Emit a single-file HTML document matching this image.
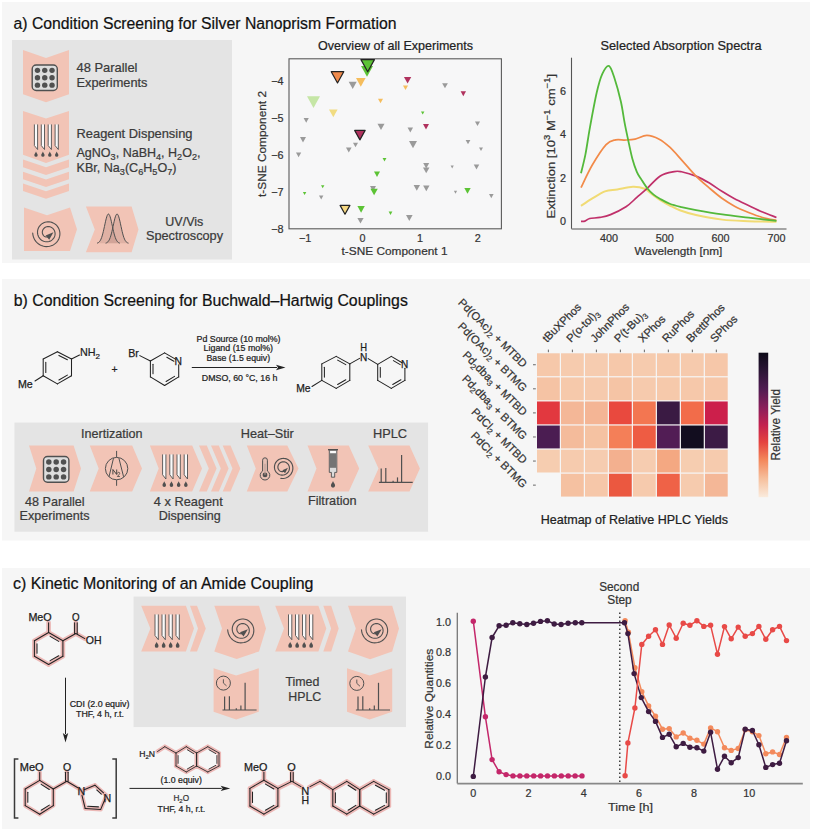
<!DOCTYPE html>
<html><head><meta charset="utf-8"><title>Figure</title>
<style>
html,body{margin:0;padding:0;background:#fff;}
svg{display:block;}
text{font-family:"Liberation Sans", sans-serif;}
</style></head><body>
<svg width="813" height="831" viewBox="0 0 813 831">
<rect x="0" y="0" width="813" height="831" fill="#ffffff"/>
<rect x="2" y="2" width="808" height="261" fill="#f6f6f6"/>
<rect x="2" y="279" width="808" height="261.5" fill="#f6f6f6"/>
<rect x="2" y="568" width="808" height="261" fill="#f6f6f6"/>
<text x="13.5" y="28.9" font-size="16" fill="#111" text-anchor="start" textLength="383" lengthAdjust="spacingAndGlyphs"  stroke="#111" stroke-width="0.22">a) Condition Screening for Silver Nanoprism Formation</text>
<text x="13.8" y="305.7" font-size="16" fill="#111" text-anchor="start" textLength="394" lengthAdjust="spacingAndGlyphs"  stroke="#111" stroke-width="0.22">b) Condition Screening for Buchwald–Hartwig Couplings</text>
<text x="13" y="588.5" font-size="16" fill="#111" text-anchor="start" textLength="300.5" lengthAdjust="spacingAndGlyphs"  stroke="#111" stroke-width="0.22">c) Kinetic Monitoring of an Amide Coupling</text>
<rect x="12" y="40" width="220" height="219.5" fill="#e4e4e4"/>
<polygon points="23,50 46,58 69,50 69,94.2 46,102.3 23,94.2" fill="#f2c4b6" />
<rect x="32.2" y="65" width="25.1" height="25.5" rx="4" fill="#dddddd" stroke="#505050" stroke-width="1.4"/>
<circle cx="37.47" cy="70.36" r="2.71" fill="#505050"/>
<circle cx="37.47" cy="77.75" r="2.71" fill="#505050"/>
<circle cx="37.47" cy="85.14" r="2.71" fill="#505050"/>
<circle cx="44.75" cy="70.36" r="2.71" fill="#505050"/>
<circle cx="44.75" cy="77.75" r="2.71" fill="#505050"/>
<circle cx="44.75" cy="85.14" r="2.71" fill="#505050"/>
<circle cx="52.03" cy="70.36" r="2.71" fill="#505050"/>
<circle cx="52.03" cy="77.75" r="2.71" fill="#505050"/>
<circle cx="52.03" cy="85.14" r="2.71" fill="#505050"/>
<text x="76.5" y="72" font-size="12.4" fill="#3a3a3a" text-anchor="start" textLength="61" lengthAdjust="spacingAndGlyphs"  stroke="#3a3a3a" stroke-width="0.22">48 Parallel</text>
<text x="76.5" y="86.8" font-size="12.4" fill="#3a3a3a" text-anchor="start" textLength="71" lengthAdjust="spacingAndGlyphs"  stroke="#3a3a3a" stroke-width="0.22">Experiments</text>
<polygon points="23,111 46,118.6 69,111 69,154.8 46,162.9 23,154.8" fill="#f2c4b6" />
<path d="M34.4,124.4 L34.4,145.6 L37.6,149.5 L37.6,124.4" fill="#fafafa" stroke="#505050" stroke-width="0.9"/>
<path d="M36,151.5 C36.43,153.15 37.7,153.59 37.7,155.29 A1.71,1.71 0 0 1 34.3,155.29 C34.3,153.59 35.57,153.15 36,151.5 Z" fill="#505050"/>
<path d="M41.3,124.4 L41.3,145.6 L44.5,149.5 L44.5,124.4" fill="#fafafa" stroke="#505050" stroke-width="0.9"/>
<path d="M42.9,151.5 C43.33,153.15 44.6,153.59 44.6,155.29 A1.71,1.71 0 0 1 41.2,155.29 C41.2,153.59 42.47,153.15 42.9,151.5 Z" fill="#505050"/>
<path d="M48.2,124.4 L48.2,145.6 L51.4,149.5 L51.4,124.4" fill="#fafafa" stroke="#505050" stroke-width="0.9"/>
<path d="M49.8,151.5 C50.23,153.15 51.51,153.59 51.51,155.29 A1.71,1.71 0 0 1 48.1,155.29 C48.1,153.59 49.37,153.15 49.8,151.5 Z" fill="#505050"/>
<path d="M55.1,124.4 L55.1,145.6 L58.3,149.5 L58.3,124.4" fill="#fafafa" stroke="#505050" stroke-width="0.9"/>
<path d="M56.7,151.5 C57.13,153.15 58.41,153.59 58.41,155.29 A1.71,1.71 0 0 1 55,155.29 C55,153.59 56.27,153.15 56.7,151.5 Z" fill="#505050"/>
<text x="76.5" y="137.7" font-size="12.4" fill="#3a3a3a" text-anchor="start" textLength="116" lengthAdjust="spacingAndGlyphs"  stroke="#3a3a3a" stroke-width="0.22">Reagent Dispensing</text>
<polygon points="23,159.6 46,167.3 69,159.6 69,167.3 46,175 23,167.3" fill="#f2c4b6" />
<polygon points="23,171.7 46,179.4 69,171.7 69,179.2 46,186.9 23,179.2" fill="#f2c4b6" />
<polygon points="23,183.5 46,191.2 69,183.5 69,191 46,198.7 23,191" fill="#f2c4b6" />
<text x="76.5" y="157.3" font-size="12.4" fill="#3a3a3a" textLength="124" lengthAdjust="spacingAndGlyphs" stroke="#3a3a3a" stroke-width="0.22">AgNO<tspan font-size="9" dy="2.3">3</tspan><tspan dy="-2.3">, NaBH</tspan><tspan font-size="9" dy="2.3">4</tspan><tspan dy="-2.3">, H</tspan><tspan font-size="9" dy="2.3">2</tspan><tspan dy="-2.3">O</tspan><tspan font-size="9" dy="2.3">2</tspan><tspan dy="-2.3">,</tspan></text>
<text x="76.5" y="172.2" font-size="12.4" fill="#3a3a3a" textLength="100" lengthAdjust="spacingAndGlyphs" stroke="#3a3a3a" stroke-width="0.22">KBr, Na<tspan font-size="9" dy="2.3">3</tspan><tspan dy="-2.3">(C</tspan><tspan font-size="9" dy="2.3">6</tspan><tspan dy="-2.3">H</tspan><tspan font-size="9" dy="2.3">5</tspan><tspan dy="-2.3">O</tspan><tspan font-size="9" dy="2.3">7</tspan><tspan dy="-2.3">)</tspan></text>
<polygon points="24,207.6 47,215.3 70,207.6 77,229.3 70,251 24,251" fill="#f2c4b6" />
<polyline points="32.7,233 32.91,234.81 33.33,236.57 33.97,238.26 34.81,239.84 35.82,241.3 37.01,242.61 38.33,243.76 39.78,244.73 41.33,245.5 42.95,246.08 44.61,246.45 46.3,246.61 47.98,246.56 49.64,246.3 51.23,245.84 52.75,245.2 54.16,244.38 55.46,243.39 56.61,242.27 57.61,241.01 58.44,239.66 59.09,238.22 59.55,236.72 59.83,235.19 59.91,233.65 59.8,232.12 59.5,230.63 59.03,229.2 58.39,227.85 57.59,226.6 56.65,225.46 55.59,224.46 54.42,223.61 53.16,222.91 51.84,222.38 50.47,222.01 49.08,221.83 47.69,221.81 46.32,221.97 44.99,222.29 43.72,222.77 42.53,223.4 41.44,224.16 40.46,225.05 39.61,226.04 38.89,227.12 38.31,228.27 37.89,229.47 37.62,230.7 37.51,231.95 37.55,233.19 37.74,234.4 38.08,235.57 38.55,236.67 39.16,237.7 39.88,238.64 40.7,239.47 41.61,240.18 42.59,240.77 43.63,241.23 44.7,241.56 45.79,241.75 46.89,241.79 47.97,241.71 49.03,241.49 50.03,241.14 50.98,240.68 51.85,240.12 52.63,239.45 53.32,238.7 53.91,237.88 54.38,237.01 54.73,236.09 54.97,235.15 55.08,234.2 55.08,233.25 54.95,232.33 54.72,231.43 54.38,230.59 53.95,229.8 53.43,229.08 52.83,228.44 52.16,227.89 51.44,227.43 50.68,227.07 49.89,226.82 49.09,226.66 48.28,226.61 47.49,226.66 46.72,226.8 45.98,227.04 45.29,227.36 44.66,227.75 44.09,228.22 43.59,228.75 43.17,229.32 42.83,229.94 42.57,230.58 42.4,231.24 42.32,231.9 42.31,232.55 42.39,233.19 42.55,233.81 42.78,234.38 43.07,234.92 43.42,235.4 43.83,235.83 44.27,236.19 44.75,236.49 45.25,236.72 45.76,236.88 46.28,236.98 46.8,237 47.3,236.96 47.78,236.86 48.24,236.71 48.66,236.5 49.04,236.24 49.38,235.95 49.67,235.62" fill="none" stroke="#505050" stroke-width="1.1" stroke-linecap="round"/>
<polygon points="53.44,232.33 49.21,239.66 45.6,235.52" fill="#505050" />
<polygon points="85.9,206.5 131.6,206.5 138.5,229.6 131.6,252.2 85.9,252.2 94.8,229.6" fill="#f2c4b6" />
<polygon points="97,243.17 97.57,242.99 98.14,242.73 98.72,242.36 99.29,241.84 99.86,241.15 100.44,240.25 101.01,239.09 101.58,237.66 102.15,235.94 102.72,233.92 103.3,231.64 103.87,229.14 104.44,226.5 105.02,223.82 105.59,221.23 106.16,218.86 106.73,216.84 107.31,215.3 107.88,214.33 108.45,214 109.02,214.33 109.59,215.3 110.17,216.84 110.74,218.86 111.31,221.23 111.89,223.82 112.46,226.5 113.03,229.14 113.6,231.64 114.17,233.92 114.75,235.94 115.32,237.66 115.89,239.09 116.47,240.25 117.04,241.15 117.61,241.84 118.18,242.36 118.75,242.73 119.33,242.99 119.9,243.17" fill="#b98a80" fill-opacity="0.32"/>
<polygon points="105.6,243.17 106.17,242.99 106.74,242.73 107.32,242.36 107.89,241.84 108.46,241.15 109.03,240.25 109.61,239.09 110.18,237.66 110.75,235.94 111.32,233.92 111.9,231.64 112.47,229.14 113.04,226.5 113.61,223.82 114.19,221.23 114.76,218.86 115.33,216.84 115.91,215.3 116.48,214.33 117.05,214 117.62,214.33 118.19,215.3 118.77,216.84 119.34,218.86 119.91,221.23 120.48,223.82 121.06,226.5 121.63,229.14 122.2,231.64 122.77,233.92 123.35,235.94 123.92,237.66 124.49,239.09 125.06,240.25 125.64,241.15 126.21,241.84 126.78,242.36 127.35,242.73 127.93,242.99 128.5,243.17" fill="#b98a80" fill-opacity="0.32"/>
<polyline points="97,243.17 97.57,242.99 98.14,242.73 98.72,242.36 99.29,241.84 99.86,241.15 100.44,240.25 101.01,239.09 101.58,237.66 102.15,235.94 102.72,233.92 103.3,231.64 103.87,229.14 104.44,226.5 105.02,223.82 105.59,221.23 106.16,218.86 106.73,216.84 107.31,215.3 107.88,214.33 108.45,214 109.02,214.33 109.59,215.3 110.17,216.84 110.74,218.86 111.31,221.23 111.89,223.82 112.46,226.5 113.03,229.14 113.6,231.64 114.17,233.92 114.75,235.94 115.32,237.66 115.89,239.09 116.47,240.25 117.04,241.15 117.61,241.84 118.18,242.36 118.75,242.73 119.33,242.99 119.9,243.17" fill="none" stroke="#505050" stroke-width="1" />
<polyline points="105.6,243.17 106.17,242.99 106.74,242.73 107.32,242.36 107.89,241.84 108.46,241.15 109.03,240.25 109.61,239.09 110.18,237.66 110.75,235.94 111.32,233.92 111.9,231.64 112.47,229.14 113.04,226.5 113.61,223.82 114.19,221.23 114.76,218.86 115.33,216.84 115.91,215.3 116.48,214.33 117.05,214 117.62,214.33 118.19,215.3 118.77,216.84 119.34,218.86 119.91,221.23 120.48,223.82 121.06,226.5 121.63,229.14 122.2,231.64 122.77,233.92 123.35,235.94 123.92,237.66 124.49,239.09 125.06,240.25 125.64,241.15 126.21,241.84 126.78,242.36 127.35,242.73 127.93,242.99 128.5,243.17" fill="none" stroke="#505050" stroke-width="1" />
<text x="184.3" y="225.6" font-size="12.4" fill="#3a3a3a" text-anchor="middle" textLength="38" lengthAdjust="spacingAndGlyphs"  stroke="#3a3a3a" stroke-width="0.22">UV/Vis</text>
<text x="184.5" y="240.4" font-size="12.4" fill="#3a3a3a" text-anchor="middle" textLength="77" lengthAdjust="spacingAndGlyphs"  stroke="#3a3a3a" stroke-width="0.22">Spectroscopy</text>
<rect x="289" y="58.8" width="212.4" height="170" fill="#f7f7f8" stroke="#5a5a5a" stroke-width="1.1"/>
<text x="395.5" y="50.1" font-size="12.4" fill="#222" text-anchor="middle" textLength="155" lengthAdjust="spacingAndGlyphs"  stroke="#222" stroke-width="0.22">Overview of all Experiments</text>
<text x="283.5" y="85.2" font-size="10.8" fill="#333" text-anchor="end"  stroke="#333" stroke-width="0.22">−4</text>
<text x="283.5" y="122.1" font-size="10.8" fill="#333" text-anchor="end"  stroke="#333" stroke-width="0.22">−5</text>
<text x="283.5" y="158.9" font-size="10.8" fill="#333" text-anchor="end"  stroke="#333" stroke-width="0.22">−6</text>
<text x="283.5" y="195.8" font-size="10.8" fill="#333" text-anchor="end"  stroke="#333" stroke-width="0.22">−7</text>
<text x="283.5" y="232.6" font-size="10.8" fill="#333" text-anchor="end"  stroke="#333" stroke-width="0.22">−8</text>
<text x="305.2" y="241.8" font-size="10.8" fill="#333" text-anchor="middle"  stroke="#333" stroke-width="0.22">−1</text>
<text x="362.6" y="241.8" font-size="10.8" fill="#333" text-anchor="middle"  stroke="#333" stroke-width="0.22">0</text>
<text x="420" y="241.8" font-size="10.8" fill="#333" text-anchor="middle"  stroke="#333" stroke-width="0.22">1</text>
<text x="477.8" y="241.8" font-size="10.8" fill="#333" text-anchor="middle"  stroke="#333" stroke-width="0.22">2</text>
<text x="394.5" y="255.2" font-size="11.6" fill="#333" text-anchor="middle" textLength="106" lengthAdjust="spacingAndGlyphs"  stroke="#333" stroke-width="0.22">t-SNE Component 1</text>
<text transform="translate(266,144) rotate(-90)" font-size="11.6" fill="#333" text-anchor="middle" textLength="106" lengthAdjust="spacingAndGlyphs" stroke="#333" stroke-width="0.22">t-SNE Component 2</text>
<polygon points="361,66 373,66 367,76.8" fill="#5cc335" />
<polygon points="348.7,81.7 356.7,81.7 352.7,88.9" fill="#9a9a9a" />
<polygon points="356,78 365.6,78 360.8,86.64" fill="#f5bd5d" />
<polygon points="307,96.2 320,96.2 313.5,107.9" fill="#c5e6a6" />
<polygon points="329,109.5 337.6,109.5 333.3,117.24" fill="#f1dc82" />
<polygon points="378,98.7 383,98.7 380.5,103.2" fill="#f5bd5d" />
<polygon points="303.6,118 308.8,118 306.2,122.68" fill="#9a9a9a" />
<polygon points="377.5,123.8 384.5,123.8 381,130.1" fill="#9a9a9a" />
<polygon points="300,137 306,137 303,142.4" fill="#9a9a9a" />
<polygon points="353,142.7 358,142.7 355.5,147.2" fill="#9a9a9a" />
<polygon points="403.95,77 411.25,77 407.6,83.57" fill="#b0325e" />
<polygon points="403,85.5 408,85.5 405.5,90" fill="#f5bd5d" />
<polygon points="442.15,83.2 447.85,83.2 445,88.33" fill="#9a9a9a" />
<polygon points="460.6,91.3 466,91.3 463.3,96.16" fill="#b0325e" />
<polygon points="421,111.5 424.4,111.5 422.7,114.56" fill="#5cc335" />
<polygon points="423,124 429,124 426,129.4" fill="#b0325e" />
<polygon points="407.55,127.5 413.05,127.5 410.3,132.45" fill="#9a9a9a" />
<polygon points="475,121.5 480,121.5 477.5,126" fill="#9a9a9a" />
<polygon points="409,141 417,141 413,148.2" fill="#9a9a9a" />
<polygon points="465.6,140 470.4,140 468,144.32" fill="#9a9a9a" />
<polygon points="479,147.5 483,147.5 481,151.1" fill="#9a9a9a" />
<polygon points="296,152.5 301.2,152.5 298.6,157.18" fill="#9a9a9a" />
<polygon points="346,147.5 351.6,147.5 348.8,152.54" fill="#9a9a9a" />
<polygon points="382.55,158 386.45,158 384.5,161.51" fill="#5cc335" />
<polygon points="374,171.5 380,171.5 377,176.9" fill="#5cc335" />
<polygon points="423.2,163 429.2,163 426.2,168.4" fill="#9a9a9a" />
<polygon points="422.95,167.5 429.45,167.5 426.2,173.35" fill="#9a9a9a" />
<polygon points="450.6,165.5 453.8,165.5 452.2,168.38" fill="#9a9a9a" />
<polygon points="473.75,164.6 479.25,164.6 476.5,169.55" fill="#9a9a9a" />
<polygon points="321,185.3 324.4,185.3 322.7,188.36" fill="#5cc335" />
<polygon points="302.9,192 306.3,192 304.6,195.06" fill="#5cc335" />
<polygon points="319,195.6 323.4,195.6 321.2,199.56" fill="#9a9a9a" />
<polygon points="370,186 376,186 373,191.4" fill="#9a9a9a" />
<polygon points="370.45,188.7 377.75,188.7 374.1,195.27" fill="#5cc335" />
<polygon points="413.6,185 420,185 416.8,190.76" fill="#9a9a9a" />
<polygon points="423.1,185.6 429.5,185.6 426.3,191.36" fill="#9a9a9a" />
<polygon points="453.9,190.8 457.1,190.8 455.5,193.68" fill="#9a9a9a" />
<polygon points="464.3,188 470.7,188 467.5,193.76" fill="#5cc335" />
<polygon points="489,194 493.6,194 491.3,198.14" fill="#9a9a9a" />
<polygon points="357.4,206 364.8,206 361.1,212.66" fill="#5cc335" />
<polygon points="357.4,218 363.6,218 360.5,223.58" fill="#9a9a9a" />
<polygon points="388.6,211.5 392.4,211.5 390.5,214.92" fill="#5cc335" />
<polygon points="406,215 412.6,215 409.3,220.94" fill="#9a9a9a" />
<polygon points="331.25,71.7 343.75,71.7 337.5,82.95" fill="#f08a4c" stroke="#222" stroke-width="1.2" stroke-linejoin="round"/>
<polygon points="360.95,59.6 374.45,59.6 367.7,71.75" fill="#5cc335" stroke="#222" stroke-width="1.2" stroke-linejoin="round"/>
<polygon points="354.65,130.4 365.15,130.4 359.9,139.85" fill="#b0325e" stroke="#222" stroke-width="1.2" stroke-linejoin="round"/>
<polygon points="340.1,205.4 349.9,205.4 345,214.22" fill="#f6d882" stroke="#222" stroke-width="1.2" stroke-linejoin="round"/>
<line x1="571.5" y1="57.7" x2="571.5" y2="228.9" stroke="#555" stroke-width="1.1" />
<line x1="571.5" y1="228.9" x2="786.5" y2="228.9" stroke="#888" stroke-width="1.5" />
<text x="681" y="49.8" font-size="12.4" fill="#222" text-anchor="middle" textLength="161" lengthAdjust="spacingAndGlyphs"  stroke="#222" stroke-width="0.22">Selected Absorption Spectra</text>
<text x="566" y="225.4" font-size="10.8" fill="#333" text-anchor="end"  stroke="#333" stroke-width="0.22">0</text>
<text x="566" y="181.9" font-size="10.8" fill="#333" text-anchor="end"  stroke="#333" stroke-width="0.22">2</text>
<text x="566" y="138.4" font-size="10.8" fill="#333" text-anchor="end"  stroke="#333" stroke-width="0.22">4</text>
<text x="566" y="94.9" font-size="10.8" fill="#333" text-anchor="end"  stroke="#333" stroke-width="0.22">6</text>
<text x="608.9" y="241.8" font-size="10.8" fill="#333" text-anchor="middle"  stroke="#333" stroke-width="0.22">400</text>
<text x="664.75" y="241.8" font-size="10.8" fill="#333" text-anchor="middle"  stroke="#333" stroke-width="0.22">500</text>
<text x="720.6" y="241.8" font-size="10.8" fill="#333" text-anchor="middle"  stroke="#333" stroke-width="0.22">600</text>
<text x="776.45" y="241.8" font-size="10.8" fill="#333" text-anchor="middle"  stroke="#333" stroke-width="0.22">700</text>
<text x="678.4" y="255" font-size="11.6" fill="#333" text-anchor="middle" textLength="88" lengthAdjust="spacingAndGlyphs"  stroke="#333" stroke-width="0.22">Wavelength [nm]</text>
<text transform="translate(554.5,146.2) rotate(-90)" font-size="11.8" fill="#333" text-anchor="middle" textLength="144.5" lengthAdjust="spacingAndGlyphs" stroke="#333" stroke-width="0.22">Extinction [10<tspan font-size="8.5" dy="-4.5">3</tspan><tspan dy="4.5"> M</tspan><tspan font-size="8.5" dy="-4.5">−1</tspan><tspan dy="4.5"> cm</tspan><tspan font-size="8.5" dy="-4.5">−1</tspan><tspan dy="4.5">]</tspan></text>
<path d="M580.98,205.92 C582.74,204.76 587.58,201.39 591.59,198.96 C595.59,196.53 600.71,192.95 604.99,191.35 C609.27,189.76 612.62,190.15 617.28,189.39 C621.93,188.63 628.35,186.89 632.92,186.78 C637.48,186.67 641.39,187.44 644.64,188.74 C647.9,190.05 649.86,192.73 652.46,194.61 C655.07,196.5 657.4,198.24 660.28,200.05 C663.17,201.86 666.52,203.78 669.78,205.49 C673.03,207.19 675.45,208.68 679.83,210.27 C684.2,211.87 688.95,213.5 696.03,215.06 C703.1,216.62 713.53,218.61 722.28,219.62 C731.03,220.64 739.5,220.78 748.52,221.15 C757.55,221.51 771.8,221.69 776.45,221.8" fill="none" stroke="#f1db74" stroke-width="2.0"/>
<path d="M580.98,221.37 C581.63,221.33 583.43,221.62 584.88,221.15 C586.34,220.68 587.17,219.15 589.69,218.54 C592.2,217.92 596.48,218.1 599.96,217.45 C603.45,216.8 606.24,216.4 610.58,214.62 C614.91,212.85 621.62,209.66 625.99,206.79 C630.37,203.93 633.34,200.45 636.82,197.44 C640.31,194.43 642.97,192.33 646.88,188.74 C650.79,185.15 655.72,178.77 660.28,175.91 C664.84,173.04 670.71,172.25 674.24,171.56 C677.78,170.87 677.87,171.01 681.5,171.78 C685.14,172.54 691.37,174.24 696.03,176.12 C700.68,178.01 705.06,180.51 709.43,183.09 C713.8,185.66 718.09,188.96 722.28,191.57 C726.46,194.18 730.19,196.43 734.56,198.75 C738.94,201.06 743.87,203.28 748.52,205.49 C753.18,207.7 757.83,210.02 762.49,212.01 C767.14,214.01 774.12,216.54 776.45,217.45" fill="none" stroke="#c0306a" stroke-width="1.7"/>
<path d="M580.98,187.65 C582.84,183.92 587.96,172.43 592.14,165.25 C596.33,158.07 602.2,148.83 606.11,144.59 C610.02,140.35 612.34,140.56 615.6,139.8 C618.86,139.04 622.4,140.13 625.65,140.02 C628.91,139.91 631.61,139.91 635.15,139.15 C638.69,138.39 642.88,135.45 646.88,135.45 C650.88,135.45 655.35,137.19 659.16,139.15 C662.98,141.11 666.05,143.75 669.78,147.2 C673.5,150.64 677.13,154.99 681.5,159.81 C685.88,164.63 691.37,171.41 696.03,176.12 C700.68,180.84 705.06,184.35 709.43,188.09 C713.8,191.82 718.09,195.52 722.28,198.53 C726.46,201.54 730.19,203.82 734.56,206.14 C738.94,208.46 743.87,210.56 748.52,212.45 C753.18,214.33 757.83,216.11 762.49,217.45 C767.14,218.79 774.12,219.99 776.45,220.5" fill="none" stroke="#f28a48" stroke-width="1.7"/>
<path d="M580.98,173.3 C581.72,170.14 583.95,161.99 585.44,154.38 C586.93,146.76 588.05,137.85 589.91,127.62 C591.77,117.4 594.57,101.96 596.61,93.04 C598.66,84.12 600.15,78.65 602.2,74.12 C604.25,69.59 606.85,65.16 608.9,65.85 C610.95,66.54 612.48,72.27 614.49,78.25 C616.49,84.23 619.23,94.38 620.91,101.74 C622.58,109.1 623.37,116.24 624.54,122.4 C625.7,128.56 626.59,132.66 627.89,138.72 C629.19,144.77 630.87,153.22 632.36,158.73 C633.85,164.24 635.34,168.33 636.82,171.78 C638.31,175.22 639.52,176.6 641.29,179.39 C643.06,182.18 645.39,185.99 647.44,188.52 C649.48,191.06 651.44,192.87 653.58,194.61 C655.72,196.35 657.58,197.44 660.28,198.96 C662.98,200.49 666.24,202.41 669.78,203.75 C673.31,205.09 677.13,205.96 681.5,207.01 C685.88,208.06 689.23,208.82 696.03,210.06 C702.82,211.29 713.53,213.14 722.28,214.41 C731.03,215.67 739.5,216.58 748.52,217.67 C757.55,218.76 771.8,220.39 776.45,220.93" fill="none" stroke="#54b93b" stroke-width="1.8"/>
<line x1="57.4" y1="351.7" x2="71.5" y2="359" stroke="#222" stroke-width="1.05" stroke-linecap="round"/>
<line x1="71.5" y1="359" x2="71.5" y2="375.7" stroke="#222" stroke-width="1.05" stroke-linecap="round"/>
<line x1="71.5" y1="375.7" x2="57.4" y2="383.9" stroke="#222" stroke-width="1.05" stroke-linecap="round"/>
<line x1="57.4" y1="383.9" x2="43.2" y2="375.7" stroke="#222" stroke-width="1.05" stroke-linecap="round"/>
<line x1="43.2" y1="375.7" x2="43.2" y2="359" stroke="#222" stroke-width="1.05" stroke-linecap="round"/>
<line x1="43.2" y1="359" x2="57.4" y2="351.7" stroke="#222" stroke-width="1.05" stroke-linecap="round"/>
<line x1="45.8" y1="362.39" x2="45.8" y2="372.41" stroke="#222" stroke-width="1.05" stroke-linecap="round"/>
<line x1="58.92" y1="355.41" x2="67.38" y2="359.79" stroke="#222" stroke-width="1.05" stroke-linecap="round"/>
<line x1="67.38" y1="375.09" x2="58.92" y2="380.01" stroke="#222" stroke-width="1.05" stroke-linecap="round"/>
<line x1="71.5" y1="359" x2="79.5" y2="355" stroke="#222" stroke-width="1.05" stroke-linecap="round"/>
<line x1="43.2" y1="375.7" x2="35" y2="381" stroke="#222" stroke-width="1.05" stroke-linecap="round"/>
<text x="80" y="356.3" font-size="10.8" fill="#222" stroke="#222" stroke-width="0.22">NH<tspan font-size="8" dy="2.8">2</tspan></text>
<text x="18" y="387.7" font-size="10.3" fill="#222" text-anchor="start" textLength="14.8" lengthAdjust="spacingAndGlyphs" stroke="#1a1a1a" stroke-width="0.25">Me</text>
<text x="114.5" y="372.8" font-size="10.5" fill="#222" text-anchor="middle"  stroke="#222" stroke-width="0.22">+</text>
<line x1="164.6" y1="352.9" x2="175.84" y2="359.36" stroke="#222" stroke-width="1.05" stroke-linecap="round"/>
<line x1="178.7" y1="364.8" x2="178.7" y2="376.9" stroke="#222" stroke-width="1.05" stroke-linecap="round"/>
<line x1="178.7" y1="376.9" x2="164.6" y2="385.5" stroke="#222" stroke-width="1.05" stroke-linecap="round"/>
<line x1="164.6" y1="385.5" x2="150.4" y2="376.9" stroke="#222" stroke-width="1.05" stroke-linecap="round"/>
<line x1="150.4" y1="376.9" x2="150.4" y2="361" stroke="#222" stroke-width="1.05" stroke-linecap="round"/>
<line x1="150.4" y1="361" x2="164.6" y2="352.9" stroke="#222" stroke-width="1.05" stroke-linecap="round"/>
<line x1="153" y1="364.23" x2="153" y2="373.77" stroke="#222" stroke-width="1.05" stroke-linecap="round"/>
<line x1="166.83" y1="357.18" x2="173.88" y2="361.23" stroke="#222" stroke-width="1.05" stroke-linecap="round"/>
<line x1="174.56" y1="376.38" x2="166.1" y2="381.54" stroke="#222" stroke-width="1.05" stroke-linecap="round"/>
<line x1="150.4" y1="361" x2="139.8" y2="355.6" stroke="#222" stroke-width="1.05" stroke-linecap="round"/>
<text x="174.5" y="365" font-size="10.3" fill="#222" text-anchor="start" stroke="#1a1a1a" stroke-width="0.25">N</text>
<text x="128.3" y="357.2" font-size="10.3" fill="#222" text-anchor="start" textLength="10.6" lengthAdjust="spacingAndGlyphs" stroke="#1a1a1a" stroke-width="0.25">Br</text>
<line x1="191.8" y1="367.5" x2="277" y2="367.5" stroke="#222" stroke-width="1.0" />
<polygon points="285.5,367.5 276,370.2 278,367.5 276,364.8" fill="#222" />
<text x="238.5" y="341.8" font-size="8.2" fill="#222" text-anchor="middle" textLength="84" lengthAdjust="spacingAndGlyphs"  stroke="#222" stroke-width="0.22">Pd Source (10 mol%)</text>
<text x="238.3" y="351.3" font-size="8.2" fill="#222" text-anchor="middle" textLength="69.5" lengthAdjust="spacingAndGlyphs"  stroke="#222" stroke-width="0.22">Ligand (15 mol%)</text>
<text x="238.3" y="360.6" font-size="8.2" fill="#222" text-anchor="middle" textLength="63.5" lengthAdjust="spacingAndGlyphs"  stroke="#222" stroke-width="0.22">Base (1.5 equiv)</text>
<text x="239.6" y="380.8" font-size="8.2" fill="#222" text-anchor="middle" textLength="75.6" lengthAdjust="spacingAndGlyphs"  stroke="#222" stroke-width="0.22">DMSO, 60 °C, 16 h</text>
<line x1="336.2" y1="356.4" x2="349.8" y2="363.9" stroke="#222" stroke-width="1.05" stroke-linecap="round"/>
<line x1="349.8" y1="363.9" x2="349.8" y2="380.4" stroke="#222" stroke-width="1.05" stroke-linecap="round"/>
<line x1="349.8" y1="380.4" x2="336.2" y2="388.4" stroke="#222" stroke-width="1.05" stroke-linecap="round"/>
<line x1="336.2" y1="388.4" x2="321.8" y2="380.4" stroke="#222" stroke-width="1.05" stroke-linecap="round"/>
<line x1="321.8" y1="380.4" x2="321.8" y2="363.9" stroke="#222" stroke-width="1.05" stroke-linecap="round"/>
<line x1="321.8" y1="363.9" x2="336.2" y2="356.4" stroke="#222" stroke-width="1.05" stroke-linecap="round"/>
<line x1="324.4" y1="367.21" x2="324.4" y2="377.11" stroke="#222" stroke-width="1.05" stroke-linecap="round"/>
<line x1="337.61" y1="360.15" x2="345.77" y2="364.65" stroke="#222" stroke-width="1.05" stroke-linecap="round"/>
<line x1="345.79" y1="379.74" x2="337.63" y2="384.54" stroke="#222" stroke-width="1.05" stroke-linecap="round"/>
<line x1="321.8" y1="380.4" x2="312" y2="386.5" stroke="#222" stroke-width="1.05" stroke-linecap="round"/>
<text x="296.2" y="392.4" font-size="10.3" fill="#222" text-anchor="start" textLength="14.4" lengthAdjust="spacingAndGlyphs" stroke="#1a1a1a" stroke-width="0.25">Me</text>
<line x1="349.8" y1="363.9" x2="359.6" y2="358.4" stroke="#222" stroke-width="1.05" stroke-linecap="round"/>
<text x="360" y="360.7" font-size="10.3" fill="#222" text-anchor="start" textLength="7.3" lengthAdjust="spacingAndGlyphs" stroke="#1a1a1a" stroke-width="0.25">N</text>
<text x="360.2" y="350.8" font-size="10.3" fill="#222" text-anchor="start" textLength="6.8" lengthAdjust="spacingAndGlyphs" stroke="#1a1a1a" stroke-width="0.25">H</text>
<line x1="368.2" y1="358.6" x2="377.7" y2="364.4" stroke="#222" stroke-width="1.05" stroke-linecap="round"/>
<line x1="391.3" y1="356.4" x2="402.06" y2="362.73" stroke="#222" stroke-width="1.05" stroke-linecap="round"/>
<line x1="404.9" y1="368.2" x2="404.9" y2="380.4" stroke="#222" stroke-width="1.05" stroke-linecap="round"/>
<line x1="404.9" y1="380.4" x2="391.3" y2="388.4" stroke="#222" stroke-width="1.05" stroke-linecap="round"/>
<line x1="391.3" y1="388.4" x2="377.7" y2="380.4" stroke="#222" stroke-width="1.05" stroke-linecap="round"/>
<line x1="377.7" y1="380.4" x2="377.7" y2="364.4" stroke="#222" stroke-width="1.05" stroke-linecap="round"/>
<line x1="377.7" y1="364.4" x2="391.3" y2="356.4" stroke="#222" stroke-width="1.05" stroke-linecap="round"/>
<line x1="380.3" y1="367.6" x2="380.3" y2="377.2" stroke="#222" stroke-width="1.05" stroke-linecap="round"/>
<line x1="393.42" y1="360.66" x2="400.22" y2="364.66" stroke="#222" stroke-width="1.05" stroke-linecap="round"/>
<line x1="400.9" y1="379.74" x2="392.74" y2="384.54" stroke="#222" stroke-width="1.05" stroke-linecap="round"/>
<text x="401" y="368.4" font-size="10.3" fill="#222" text-anchor="start" textLength="7.2" lengthAdjust="spacingAndGlyphs" stroke="#1a1a1a" stroke-width="0.25">N</text>
<rect x="14.4" y="422.6" width="413.7" height="109.1" fill="#e4e4e4"/>
<polygon points="29,445.5 73.6,445.5 81,468.55 73.6,491.6 29,491.6 36.3,468.55" fill="#f2c4b6" />
<rect x="43.5" y="456.5" width="25.4" height="25.8" rx="4" fill="#dddddd" stroke="#505050" stroke-width="1.4"/>
<circle cx="48.83" cy="461.92" r="2.74" fill="#505050"/>
<circle cx="48.83" cy="469.4" r="2.74" fill="#505050"/>
<circle cx="48.83" cy="476.88" r="2.74" fill="#505050"/>
<circle cx="56.2" cy="461.92" r="2.74" fill="#505050"/>
<circle cx="56.2" cy="469.4" r="2.74" fill="#505050"/>
<circle cx="56.2" cy="476.88" r="2.74" fill="#505050"/>
<circle cx="63.57" cy="461.92" r="2.74" fill="#505050"/>
<circle cx="63.57" cy="469.4" r="2.74" fill="#505050"/>
<circle cx="63.57" cy="476.88" r="2.74" fill="#505050"/>
<polygon points="89.8,445.5 132.2,445.5 142,468.55 132.2,491.6 89.8,491.6 98.7,468.55" fill="#f2c4b6" />
<circle cx="116.6" cy="468.6" r="11.2" fill="none" stroke="#505050" stroke-width="1"/>
<line x1="116.6" y1="450.9" x2="116.6" y2="457.4" stroke="#505050" stroke-width="1" />
<line x1="116.6" y1="479.8" x2="116.6" y2="485.8" stroke="#505050" stroke-width="1" />
<line x1="113.5" y1="458.2" x2="109" y2="476.8" stroke="#505050" stroke-width="1" />
<line x1="118.9" y1="458.2" x2="123.6" y2="476.8" stroke="#505050" stroke-width="1" />
<polyline points="112.9,474.5 112.9,469.5 116.7,474.5 116.7,469.5" fill="none" stroke="#3a3a3a" stroke-width="0.9" stroke-linejoin="miter"/>
<path d="M117.5,473.5 Q117.7,472.3 118.7,472.3 Q119.8,472.4 119.7,473.5 Q119.5,474.2 117.4,476.5 L119.9,476.5" fill="none" stroke="#3a3a3a" stroke-width="0.75"/>
<polygon points="149.9,445.5 192.2,445.5 202,468.55 192.2,491.6 149.9,491.6 158.7,468.55" fill="#f2c4b6" />
<path d="M162.6,454.4 L162.6,474.8 L165.9,479 L165.9,454.4" fill="#fafafa" stroke="#505050" stroke-width="0.9"/>
<path d="M164.25,481.2 C164.69,482.91 166.02,483.37 166.02,485.13 A1.77,1.77 0 0 1 162.48,485.13 C162.48,483.37 163.81,482.91 164.25,481.2 Z" fill="#505050"/>
<path d="M169.8,454.4 L169.8,474.8 L173.1,479 L173.1,454.4" fill="#fafafa" stroke="#505050" stroke-width="0.9"/>
<path d="M171.45,481.2 C171.89,482.91 173.22,483.37 173.22,485.13 A1.77,1.77 0 0 1 169.68,485.13 C169.68,483.37 171.01,482.91 171.45,481.2 Z" fill="#505050"/>
<path d="M177,454.4 L177,474.8 L180.3,479 L180.3,454.4" fill="#fafafa" stroke="#505050" stroke-width="0.9"/>
<path d="M178.65,481.2 C179.09,482.91 180.42,483.37 180.42,485.13 A1.77,1.77 0 0 1 176.88,485.13 C176.88,483.37 178.21,482.91 178.65,481.2 Z" fill="#505050"/>
<path d="M184.2,454.4 L184.2,474.8 L187.5,479 L187.5,454.4" fill="#fafafa" stroke="#505050" stroke-width="0.9"/>
<path d="M185.85,481.2 C186.29,482.91 187.62,483.37 187.62,485.13 A1.77,1.77 0 0 1 184.08,485.13 C184.08,483.37 185.41,482.91 185.85,481.2 Z" fill="#505050"/>
<polygon points="199,445.5 206.8,445.5 216.6,468.55 206.8,491.6 199,491.6 208.8,468.55" fill="#f2c4b6" />
<polygon points="211,445.5 218.8,445.5 228.6,468.55 218.8,491.6 211,491.6 220.8,468.55" fill="#f2c4b6" />
<polygon points="222.7,445.5 230.5,445.5 240.3,468.55 230.5,491.6 222.7,491.6 232.5,468.55" fill="#f2c4b6" />
<polygon points="246.8,445.5 287.3,445.5 298.5,468.55 287.3,491.6 246.8,491.6 255.8,468.55" fill="#f2c4b6" />
<path d="M262.6,471.06 L262.6,460.2 A2.4,2.4 0 0 1 267.4,460.2 L267.4,471.06 A4.8,4.8 0 1 1 262.6,471.06 Z" fill="#e6c0b4" stroke="#505050" stroke-width="1"/>
<circle cx="265" cy="474.9" r="2.4" fill="#505050"/>
<line x1="265" y1="474.9" x2="265" y2="463.8" stroke="#b89a92" stroke-width="1.0" />
<polyline points="280.89,478.43 282.12,478.52 283.35,478.46 284.56,478.27 285.73,477.95 286.85,477.5 287.9,476.92 288.88,476.24 289.78,475.46 290.57,474.58 291.25,473.63 291.82,472.61 292.27,471.54 292.6,470.44 292.79,469.31 292.86,468.17 292.8,467.04 292.61,465.93 292.3,464.86 291.88,463.83 291.34,462.87 290.71,461.97 289.98,461.16 289.17,460.44 288.29,459.82 287.35,459.31 286.37,458.91 285.35,458.62 284.31,458.45 283.27,458.4 282.24,458.47 281.23,458.65 280.25,458.94 279.32,459.34 278.44,459.84 277.63,460.42 276.9,461.1 276.26,461.84 275.7,462.65 275.24,463.51 274.89,464.4 274.64,465.33 274.5,466.27 274.46,467.21 274.53,468.15 274.71,469.06 274.98,469.95 275.35,470.79 275.81,471.57 276.35,472.3 276.96,472.95 277.64,473.52 278.37,474.01 279.15,474.42 279.96,474.73 280.8,474.94 281.65,475.06 282.49,475.08 283.33,475 284.15,474.84 284.93,474.58 285.68,474.24 286.38,473.82 287.02,473.33 287.59,472.78 288.1,472.16 288.52,471.51 288.87,470.81 289.14,470.08 289.32,469.34 289.41,468.59 289.42,467.84 289.34,467.1 289.18,466.38 288.95,465.69 288.64,465.03 288.26,464.42 287.82,463.87 287.32,463.37 286.78,462.94 286.19,462.57 285.58,462.28 284.94,462.06 284.29,461.91 283.63,461.84 282.98,461.84 282.33,461.92 281.71,462.07 281.11,462.29 280.55,462.57 280.03,462.9 279.56,463.29 279.14,463.73 278.78,464.21 278.47,464.71 278.23,465.25 278.05,465.8 277.94,466.36 277.89,466.92 277.91,467.48 277.99,468.02 278.12,468.55 278.32,469.05 278.57,469.52 278.86,469.95 279.2,470.34 279.57,470.68 279.98,470.98 280.41,471.22 280.86,471.41 281.32,471.55 281.79,471.63 282.26,471.66 282.72,471.63 283.17,471.55 283.6,471.43 284,471.25 284.38,471.04 284.72,470.79 285.03,470.5 285.3,470.19" fill="none" stroke="#505050" stroke-width="1.15" stroke-linecap="round"/>
<polygon points="287.97,467.73 285.05,473.13 282.35,470.2" fill="#505050" />
<polygon points="307.5,445.5 348.8,445.5 359.2,468.55 348.8,491.6 307.5,491.6 316.5,468.55" fill="#f2c4b6" />
<rect x="328" y="449" width="10" height="1.4" fill="#505050"/>
<path d="M329.3,450.2 L329.3,472.4 L331.4,472.4 L331.4,477.2 L334.7,477.2 L334.7,472.4 L336.8,472.4 L336.8,450.2 Z" fill="#dcdcdc" stroke="#505050" stroke-width="0.9"/>
<rect x="329.8" y="453.3" width="6.5" height="14.5" fill="#747474"/>
<rect x="330.3" y="451" width="5.5" height="2" fill="#fafafa"/>
<path d="M333,481 C333.52,483.01 335.08,483.55 335.08,485.62 A2.08,2.08 0 0 1 330.92,485.62 C330.92,483.55 332.48,483.01 333,481 Z" fill="#505050"/>
<polygon points="368.2,445.5 409.5,445.5 419.9,468.55 409.5,491.6 368.2,491.6 378.5,468.55" fill="#f2c4b6" />
<line x1="378.9" y1="482.3" x2="412.7" y2="482.3" stroke="#505050" stroke-width="1.2" />
<line x1="381.2" y1="482.3" x2="381.2" y2="468.6" stroke="#505050" stroke-width="1.2" />
<line x1="385.8" y1="482.3" x2="385.8" y2="468" stroke="#505050" stroke-width="1.2" />
<line x1="393.1" y1="482.3" x2="393.1" y2="480.7" stroke="#505050" stroke-width="1.2" />
<line x1="397.5" y1="482.3" x2="397.5" y2="477.4" stroke="#505050" stroke-width="1.2" />
<line x1="401.6" y1="482.3" x2="401.6" y2="454.9" stroke="#505050" stroke-width="1.2" />
<text x="111.8" y="438.3" font-size="12.2" fill="#3a3a3a" text-anchor="middle" textLength="61.6" lengthAdjust="spacingAndGlyphs"  stroke="#3a3a3a" stroke-width="0.22">Inertization</text>
<text x="267.3" y="438.3" font-size="12.2" fill="#3a3a3a" text-anchor="middle" textLength="53" lengthAdjust="spacingAndGlyphs"  stroke="#3a3a3a" stroke-width="0.22">Heat–Stir</text>
<text x="390" y="438.3" font-size="12.2" fill="#3a3a3a" text-anchor="middle" textLength="34" lengthAdjust="spacingAndGlyphs"  stroke="#3a3a3a" stroke-width="0.22">HPLC</text>
<text x="54.8" y="505.8" font-size="12.2" fill="#3a3a3a" text-anchor="middle" textLength="59.5" lengthAdjust="spacingAndGlyphs"  stroke="#3a3a3a" stroke-width="0.22">48 Parallel</text>
<text x="54.6" y="520.3" font-size="12.2" fill="#3a3a3a" text-anchor="middle" textLength="70" lengthAdjust="spacingAndGlyphs"  stroke="#3a3a3a" stroke-width="0.22">Experiments</text>
<text x="188.3" y="505.6" font-size="12.2" fill="#3a3a3a" text-anchor="middle" textLength="69" lengthAdjust="spacingAndGlyphs"  stroke="#3a3a3a" stroke-width="0.22">4 x Reagent</text>
<text x="189.7" y="520.3" font-size="12.2" fill="#3a3a3a" text-anchor="middle" textLength="62" lengthAdjust="spacingAndGlyphs"  stroke="#3a3a3a" stroke-width="0.22">Dispensing</text>
<text x="332.3" y="505.4" font-size="12.2" fill="#3a3a3a" text-anchor="middle" textLength="48.6" lengthAdjust="spacingAndGlyphs"  stroke="#3a3a3a" stroke-width="0.22">Filtration</text>
<rect x="537" y="353.3" width="22.79" height="22.88" fill="#f6c8aa"/>
<rect x="560.99" y="353.3" width="22.79" height="22.88" fill="#f6cbae"/>
<rect x="584.98" y="353.3" width="22.79" height="22.88" fill="#f6ccb0"/>
<rect x="608.97" y="353.3" width="22.79" height="22.88" fill="#f6c8aa"/>
<rect x="632.96" y="353.3" width="22.79" height="22.88" fill="#f6cbae"/>
<rect x="656.95" y="353.3" width="22.79" height="22.88" fill="#f6c9ab"/>
<rect x="680.94" y="353.3" width="22.79" height="22.88" fill="#f6caad"/>
<rect x="704.93" y="353.3" width="22.79" height="22.88" fill="#f6c7a9"/>
<rect x="537" y="377.38" width="22.79" height="22.88" fill="#f5c3a4"/>
<rect x="560.99" y="377.38" width="22.79" height="22.88" fill="#f6c9ab"/>
<rect x="584.98" y="377.38" width="22.79" height="22.88" fill="#f6caad"/>
<rect x="608.97" y="377.38" width="22.79" height="22.88" fill="#f5c4a5"/>
<rect x="632.96" y="377.38" width="22.79" height="22.88" fill="#f6caad"/>
<rect x="656.95" y="377.38" width="22.79" height="22.88" fill="#f6c9ab"/>
<rect x="680.94" y="377.38" width="22.79" height="22.88" fill="#f6c8aa"/>
<rect x="704.93" y="377.38" width="22.79" height="22.88" fill="#f6c7a9"/>
<rect x="537" y="401.46" width="22.79" height="22.88" fill="#e2383f"/>
<rect x="560.99" y="401.46" width="22.79" height="22.88" fill="#f4b797"/>
<rect x="584.98" y="401.46" width="22.79" height="22.88" fill="#f4b595"/>
<rect x="608.97" y="401.46" width="22.79" height="22.88" fill="#e9493e"/>
<rect x="632.96" y="401.46" width="22.79" height="22.88" fill="#f37651"/>
<rect x="656.95" y="401.46" width="22.79" height="22.88" fill="#3a1a43"/>
<rect x="680.94" y="401.46" width="22.79" height="22.88" fill="#f26c4a"/>
<rect x="704.93" y="401.46" width="22.79" height="22.88" fill="#cc1f4b"/>
<rect x="537" y="425.54" width="22.79" height="22.88" fill="#4b1d52"/>
<rect x="560.99" y="425.54" width="22.79" height="22.88" fill="#f4bb9b"/>
<rect x="584.98" y="425.54" width="22.79" height="22.88" fill="#f5c2a2"/>
<rect x="608.97" y="425.54" width="22.79" height="22.88" fill="#f47f58"/>
<rect x="632.96" y="425.54" width="22.79" height="22.88" fill="#ee5c43"/>
<rect x="656.95" y="425.54" width="22.79" height="22.88" fill="#521d55"/>
<rect x="680.94" y="425.54" width="22.79" height="22.88" fill="#120d1f"/>
<rect x="704.93" y="425.54" width="22.79" height="22.88" fill="#3c1b45"/>
<rect x="537" y="449.62" width="22.79" height="22.88" fill="#f6cdb0"/>
<rect x="560.99" y="449.62" width="22.79" height="22.88" fill="#f6cbae"/>
<rect x="584.98" y="449.62" width="22.79" height="22.88" fill="#f6ccb0"/>
<rect x="608.97" y="449.62" width="22.79" height="22.88" fill="#f3b08f"/>
<rect x="632.96" y="449.62" width="22.79" height="22.88" fill="#f6ccb0"/>
<rect x="656.95" y="449.62" width="22.79" height="22.88" fill="#f4a882"/>
<rect x="680.94" y="449.62" width="22.79" height="22.88" fill="#f6cdb0"/>
<rect x="704.93" y="449.62" width="22.79" height="22.88" fill="#f6cbae"/>
<rect x="560.99" y="473.7" width="22.79" height="22.88" fill="#f5c1a1"/>
<rect x="584.98" y="473.7" width="22.79" height="22.88" fill="#f6c7a9"/>
<rect x="608.97" y="473.7" width="22.79" height="22.88" fill="#eb5840"/>
<rect x="632.96" y="473.7" width="22.79" height="22.88" fill="#f6caad"/>
<rect x="656.95" y="473.7" width="22.79" height="22.88" fill="#ef6247"/>
<rect x="680.94" y="473.7" width="22.79" height="22.88" fill="#f6cbae"/>
<rect x="704.93" y="473.7" width="22.79" height="22.88" fill="#f4b797"/>
<line x1="548.39" y1="349.6" x2="548.39" y2="352.2" stroke="#444" stroke-width="0.8" />
<line x1="572.38" y1="349.6" x2="572.38" y2="352.2" stroke="#444" stroke-width="0.8" />
<line x1="596.38" y1="349.6" x2="596.38" y2="352.2" stroke="#444" stroke-width="0.8" />
<line x1="620.37" y1="349.6" x2="620.37" y2="352.2" stroke="#444" stroke-width="0.8" />
<line x1="644.36" y1="349.6" x2="644.36" y2="352.2" stroke="#444" stroke-width="0.8" />
<line x1="668.34" y1="349.6" x2="668.34" y2="352.2" stroke="#444" stroke-width="0.8" />
<line x1="692.33" y1="349.6" x2="692.33" y2="352.2" stroke="#444" stroke-width="0.8" />
<line x1="716.32" y1="349.6" x2="716.32" y2="352.2" stroke="#444" stroke-width="0.8" />
<line x1="533" y1="364.74" x2="535.8" y2="364.74" stroke="#444" stroke-width="0.8" />
<line x1="533" y1="388.82" x2="535.8" y2="388.82" stroke="#444" stroke-width="0.8" />
<line x1="533" y1="412.9" x2="535.8" y2="412.9" stroke="#444" stroke-width="0.8" />
<line x1="533" y1="436.98" x2="535.8" y2="436.98" stroke="#444" stroke-width="0.8" />
<line x1="533" y1="461.06" x2="535.8" y2="461.06" stroke="#444" stroke-width="0.8" />
<line x1="533" y1="485.14" x2="535.8" y2="485.14" stroke="#444" stroke-width="0.8" />
<text transform="translate(546.89,343) rotate(-45)" font-size="11.2" fill="#333" stroke="#333" stroke-width="0.22">tBuXPhos</text>
<text transform="translate(570.88,343) rotate(-45)" font-size="11.2" fill="#333" stroke="#333" stroke-width="0.22">P(o-tol)<tspan font-size="8" dy="2.5">3</tspan></text>
<text transform="translate(594.88,343) rotate(-45)" font-size="11.2" fill="#333" stroke="#333" stroke-width="0.22">JohnPhos</text>
<text transform="translate(618.87,343) rotate(-45)" font-size="11.2" fill="#333" stroke="#333" stroke-width="0.22">P(t-Bu)<tspan font-size="8" dy="2.5">3</tspan></text>
<text transform="translate(642.86,343) rotate(-45)" font-size="11.2" fill="#333" stroke="#333" stroke-width="0.22">XPhos</text>
<text transform="translate(666.84,343) rotate(-45)" font-size="11.2" fill="#333" stroke="#333" stroke-width="0.22">RuPhos</text>
<text transform="translate(690.83,343) rotate(-45)" font-size="11.2" fill="#333" stroke="#333" stroke-width="0.22">BrettPhos</text>
<text transform="translate(714.82,343) rotate(-45)" font-size="11.2" fill="#333" stroke="#333" stroke-width="0.22">SPhos</text>
<text transform="translate(522.5,368.24) rotate(45)" font-size="11.2" fill="#333" text-anchor="end" stroke="#333" stroke-width="0.22">Pd(OAc)<tspan font-size="8" dy="2.5">2</tspan><tspan dy="-2.5"> + MTBD</tspan></text>
<text transform="translate(522.5,392.32) rotate(45)" font-size="11.2" fill="#333" text-anchor="end" stroke="#333" stroke-width="0.22">Pd(OAc)<tspan font-size="8" dy="2.5">2</tspan><tspan dy="-2.5"> + BTMG</tspan></text>
<text transform="translate(522.5,416.4) rotate(45)" font-size="11.2" fill="#333" text-anchor="end" stroke="#333" stroke-width="0.22">Pd<tspan font-size="8" dy="2.5">2</tspan><tspan dy="-2.5">dba</tspan><tspan font-size="8" dy="2.5">3</tspan><tspan dy="-2.5"> + MTBD</tspan></text>
<text transform="translate(522.5,440.48) rotate(45)" font-size="11.2" fill="#333" text-anchor="end" stroke="#333" stroke-width="0.22">Pd<tspan font-size="8" dy="2.5">2</tspan><tspan dy="-2.5">dba</tspan><tspan font-size="8" dy="2.5">3</tspan><tspan dy="-2.5"> + BTMG</tspan></text>
<text transform="translate(522.5,464.56) rotate(45)" font-size="11.2" fill="#333" text-anchor="end" stroke="#333" stroke-width="0.22">PdCl<tspan font-size="8" dy="2.5">2</tspan><tspan dy="-2.5"> + MTBD</tspan></text>
<text transform="translate(522.5,488.64) rotate(45)" font-size="11.2" fill="#333" text-anchor="end" stroke="#333" stroke-width="0.22">PdCl<tspan font-size="8" dy="2.5">2</tspan><tspan dy="-2.5"> + BTMG</tspan></text>
<defs><linearGradient id="rk" x1="0" y1="0" x2="0" y2="1"><stop offset="0" stop-color="#0d0a18"/><stop offset="0.12" stop-color="#2a1535"/><stop offset="0.25" stop-color="#4f1c52"/><stop offset="0.38" stop-color="#8a1e5b"/><stop offset="0.5" stop-color="#c3214f"/><stop offset="0.62" stop-color="#e5423f"/><stop offset="0.74" stop-color="#f3865a"/><stop offset="0.87" stop-color="#f6bf9c"/><stop offset="1" stop-color="#faebdd"/></linearGradient></defs>
<rect x="758.6" y="352.7" width="9.6" height="144.5" fill="url(#rk)"/>
<text transform="translate(779.6,424.8) rotate(-90)" font-size="12" fill="#333" text-anchor="middle" textLength="71.5" lengthAdjust="spacingAndGlyphs" stroke="#333" stroke-width="0.22">Relative Yield</text>
<text x="634.4" y="523.5" font-size="12.4" fill="#222" text-anchor="middle" textLength="187.3" lengthAdjust="spacingAndGlyphs"  stroke="#222" stroke-width="0.22">Heatmap of Relative HPLC Yields</text>
<rect x="133.6" y="596.6" width="272.4" height="130.5" fill="#e4e4e4"/>
<polygon points="141.2,605.8 185.9,605.8 194,628.6 185.9,651.4 141.2,651.4 150.4,628.6" fill="#f2c4b6" />
<path d="M155,614.4 L155,635.5 L158.3,639.7 L158.3,614.4" fill="#fafafa" stroke="#505050" stroke-width="0.9"/>
<path d="M156.65,641.8 C157.12,643.6 158.51,644.08 158.51,645.94 A1.86,1.86 0 0 1 154.79,645.94 C154.79,644.08 156.19,643.6 156.65,641.8 Z" fill="#505050"/>
<path d="M162,614.4 L162,635.5 L165.3,639.7 L165.3,614.4" fill="#fafafa" stroke="#505050" stroke-width="0.9"/>
<path d="M163.65,641.8 C164.12,643.6 165.51,644.08 165.51,645.94 A1.86,1.86 0 0 1 161.79,645.94 C161.79,644.08 163.19,643.6 163.65,641.8 Z" fill="#505050"/>
<path d="M169,614.4 L169,635.5 L172.3,639.7 L172.3,614.4" fill="#fafafa" stroke="#505050" stroke-width="0.9"/>
<path d="M170.65,641.8 C171.12,643.6 172.51,644.08 172.51,645.94 A1.86,1.86 0 0 1 168.79,645.94 C168.79,644.08 170.19,643.6 170.65,641.8 Z" fill="#505050"/>
<path d="M176,614.4 L176,635.5 L179.3,639.7 L179.3,614.4" fill="#fafafa" stroke="#505050" stroke-width="0.9"/>
<path d="M177.65,641.8 C178.12,643.6 179.51,644.08 179.51,645.94 A1.86,1.86 0 0 1 175.79,645.94 C175.79,644.08 177.19,643.6 177.65,641.8 Z" fill="#505050"/>
<polygon points="190,605.8 197,605.8 205.8,628.6 197,651.4 190,651.4 198,628.6" fill="#f2c4b6" />
<polygon points="214.3,605.8 259,605.8 266,628.6 259,651.4 236.65,659 214.3,651.4 222,628.6" fill="#f2c4b6" />
<polyline points="227.7,629.8 227.9,631.54 228.31,633.23 228.92,634.85 229.72,636.37 230.69,637.77 231.83,639.03 233.1,640.13 234.49,641.06 235.97,641.81 237.53,642.36 239.13,642.72 240.75,642.87 242.36,642.82 243.95,642.58 245.49,642.14 246.94,641.52 248.3,640.73 249.55,639.79 250.66,638.71 251.62,637.5 252.42,636.2 253.04,634.82 253.49,633.38 253.75,631.91 253.83,630.43 253.73,628.96 253.45,627.52 252.99,626.14 252.38,624.84 251.61,623.64 250.71,622.55 249.68,621.58 248.56,620.76 247.35,620.08 246.08,619.57 244.76,619.22 243.42,619.04 242.08,619.02 240.76,619.17 239.48,619.48 238.26,619.94 237.11,620.55 236.06,621.28 235.11,622.13 234.29,623.09 233.59,624.13 233.04,625.24 232.63,626.39 232.36,627.58 232.25,628.79 232.29,629.98 232.48,631.15 232.8,632.28 233.26,633.35 233.84,634.34 234.53,635.25 235.33,636.05 236.2,636.74 237.15,637.32 238.15,637.76 239.19,638.08 240.25,638.26 241.31,638.31 242.36,638.23 243.38,638.02 244.35,637.69 245.27,637.24 246.11,636.69 246.88,636.05 247.54,635.33 248.11,634.53 248.57,633.69 248.92,632.8 249.15,631.89 249.26,630.97 249.26,630.05 249.14,629.15 248.92,628.28 248.59,627.45 248.17,626.69 247.66,625.99 247.08,625.37 246.43,624.83 245.74,624.38 245,624.03 244.23,623.77 243.45,623.62 242.66,623.57 241.89,623.61 241.14,623.75 240.42,623.98 239.74,624.29 239.12,624.67 238.57,625.13 238.08,625.64 237.66,626.2 237.32,626.8 237.07,627.43 236.9,628.07 236.81,628.72 236.81,629.36 236.88,629.99 237.03,630.59 237.26,631.16 237.54,631.69 237.88,632.16 238.28,632.59 238.71,632.95 239.18,633.25 239.67,633.48 240.18,633.64 240.69,633.74 241.2,633.77 241.7,633.74 242.18,633.64 242.64,633.49 243.06,633.28 243.44,633.03 243.78,632.74 244.07,632.42" fill="none" stroke="#505050" stroke-width="1.1" stroke-linecap="round"/>
<polygon points="247.87,629.17 243.57,636.46 240,632.28" fill="#505050" />
<polygon points="275.2,605.8 318.4,605.8 326.3,628.6 318.4,651.4 275.2,651.4 284,628.6" fill="#f2c4b6" />
<path d="M288.5,614.4 L288.5,635.5 L291.8,639.7 L291.8,614.4" fill="#fafafa" stroke="#505050" stroke-width="0.9"/>
<path d="M290.15,641.8 C290.61,643.6 292.01,644.08 292.01,645.94 A1.86,1.86 0 0 1 288.29,645.94 C288.29,644.08 289.69,643.6 290.15,641.8 Z" fill="#505050"/>
<path d="M295.5,614.4 L295.5,635.5 L298.8,639.7 L298.8,614.4" fill="#fafafa" stroke="#505050" stroke-width="0.9"/>
<path d="M297.15,641.8 C297.61,643.6 299.01,644.08 299.01,645.94 A1.86,1.86 0 0 1 295.29,645.94 C295.29,644.08 296.69,643.6 297.15,641.8 Z" fill="#505050"/>
<path d="M302.5,614.4 L302.5,635.5 L305.8,639.7 L305.8,614.4" fill="#fafafa" stroke="#505050" stroke-width="0.9"/>
<path d="M304.15,641.8 C304.61,643.6 306.01,644.08 306.01,645.94 A1.86,1.86 0 0 1 302.29,645.94 C302.29,644.08 303.69,643.6 304.15,641.8 Z" fill="#505050"/>
<path d="M309.5,614.4 L309.5,635.5 L312.8,639.7 L312.8,614.4" fill="#fafafa" stroke="#505050" stroke-width="0.9"/>
<path d="M311.15,641.8 C311.61,643.6 313.01,644.08 313.01,645.94 A1.86,1.86 0 0 1 309.29,645.94 C309.29,644.08 310.69,643.6 311.15,641.8 Z" fill="#505050"/>
<polygon points="323.3,605.8 331.2,605.8 338.7,628.6 331.2,651.4 323.3,651.4 331.1,628.6" fill="#f2c4b6" />
<polygon points="348,605.8 392.2,605.8 399,628.6 392.2,651.4 370.1,659.3 348,651.4 355.8,628.6" fill="#f2c4b6" />
<polyline points="361.5,629.8 361.7,631.54 362.11,633.23 362.72,634.85 363.52,636.37 364.49,637.77 365.63,639.03 366.9,640.13 368.29,641.06 369.77,641.81 371.33,642.36 372.93,642.72 374.55,642.87 376.16,642.82 377.75,642.58 379.29,642.14 380.74,641.52 382.1,640.73 383.35,639.79 384.46,638.71 385.42,637.5 386.22,636.2 386.84,634.82 387.29,633.38 387.55,631.91 387.63,630.43 387.53,628.96 387.25,627.52 386.79,626.14 386.18,624.84 385.41,623.64 384.51,622.55 383.48,621.58 382.36,620.76 381.15,620.08 379.88,619.57 378.56,619.22 377.22,619.04 375.88,619.02 374.56,619.17 373.28,619.48 372.06,619.94 370.91,620.55 369.86,621.28 368.91,622.13 368.09,623.09 367.39,624.13 366.84,625.24 366.43,626.39 366.16,627.58 366.05,628.79 366.09,629.98 366.28,631.15 366.6,632.28 367.06,633.35 367.64,634.34 368.33,635.25 369.13,636.05 370,636.74 370.95,637.32 371.95,637.76 372.99,638.08 374.05,638.26 375.11,638.31 376.16,638.23 377.18,638.02 378.15,637.69 379.07,637.24 379.91,636.69 380.68,636.05 381.34,635.33 381.91,634.53 382.37,633.69 382.72,632.8 382.95,631.89 383.06,630.97 383.06,630.05 382.94,629.15 382.72,628.28 382.39,627.45 381.97,626.69 381.46,625.99 380.88,625.37 380.23,624.83 379.54,624.38 378.8,624.03 378.03,623.77 377.25,623.62 376.46,623.57 375.69,623.61 374.94,623.75 374.22,623.98 373.54,624.29 372.92,624.67 372.37,625.13 371.88,625.64 371.46,626.2 371.12,626.8 370.87,627.43 370.7,628.07 370.61,628.72 370.61,629.36 370.68,629.99 370.83,630.59 371.06,631.16 371.34,631.69 371.68,632.16 372.08,632.59 372.51,632.95 372.98,633.25 373.47,633.48 373.98,633.64 374.49,633.74 375,633.77 375.5,633.74 375.98,633.64 376.44,633.49 376.86,633.28 377.24,633.03 377.58,632.74 377.87,632.42" fill="none" stroke="#505050" stroke-width="1.1" stroke-linecap="round"/>
<polygon points="381.67,629.17 377.37,636.46 373.8,632.28" fill="#505050" />
<polygon points="213.6,668.3 236.2,675.6 258.8,668.3 258.8,711.7 236.2,719.5 213.6,711.7" fill="#f2c4b6" />
<circle cx="223.4" cy="683.1" r="7" fill="none" stroke="#505050" stroke-width="1"/>
<polyline points="223.4,679.25 223.4,683.1 226.55,685.9" fill="none" stroke="#505050" stroke-width="0.9" />
<line x1="222.5" y1="710" x2="256.6" y2="710" stroke="#505050" stroke-width="1.2" />
<line x1="224.6" y1="710" x2="224.6" y2="696.6" stroke="#505050" stroke-width="1.2" />
<line x1="229.4" y1="710" x2="229.4" y2="696.3" stroke="#505050" stroke-width="1.2" />
<line x1="236.3" y1="710" x2="236.3" y2="708.3" stroke="#505050" stroke-width="1.2" />
<line x1="240.9" y1="710" x2="240.9" y2="705.5" stroke="#505050" stroke-width="1.2" />
<line x1="245.1" y1="710" x2="245.1" y2="682.8" stroke="#505050" stroke-width="1.2" />
<polygon points="347,668.3 369.6,675.6 392.2,668.3 392.2,711.7 369.6,719.5 347,711.7" fill="#f2c4b6" />
<circle cx="356.8" cy="683.4" r="7" fill="none" stroke="#505050" stroke-width="1"/>
<polyline points="356.8,679.55 356.8,683.4 359.95,686.2" fill="none" stroke="#505050" stroke-width="0.9" />
<line x1="355.9" y1="710" x2="390" y2="710" stroke="#505050" stroke-width="1.2" />
<line x1="358" y1="710" x2="358" y2="696.6" stroke="#505050" stroke-width="1.2" />
<line x1="362.8" y1="710" x2="362.8" y2="696.3" stroke="#505050" stroke-width="1.2" />
<line x1="369.7" y1="710" x2="369.7" y2="708.3" stroke="#505050" stroke-width="1.2" />
<line x1="374.3" y1="710" x2="374.3" y2="705.5" stroke="#505050" stroke-width="1.2" />
<line x1="378.5" y1="710" x2="378.5" y2="682.8" stroke="#505050" stroke-width="1.2" />
<text x="302.4" y="686" font-size="12.2" fill="#3a3a3a" text-anchor="middle" textLength="34" lengthAdjust="spacingAndGlyphs"  stroke="#3a3a3a" stroke-width="0.22">Timed</text>
<text x="304.8" y="701.2" font-size="12.2" fill="#3a3a3a" text-anchor="middle" textLength="33" lengthAdjust="spacingAndGlyphs"  stroke="#3a3a3a" stroke-width="0.22">HPLC</text>
<defs><filter id="gl" x="-20%" y="-20%" width="140%" height="140%"><feGaussianBlur stdDeviation="0.6"/></filter></defs>
<path d="M48.6,632.5 L62.9,640.8 M62.9,640.8 L62.9,656.3 M62.9,656.3 L48.6,664.5 M48.6,664.5 L34.4,656.3 M34.4,656.3 L34.4,640.8 M34.4,640.8 L48.6,632.5 M48.6,632.5 L48.6,622.5 M62.9,640.8 L75.8,633.5 M75.8,633.5 L75.8,622.5 M75.8,633.5 L85,638.8" stroke="#ecb8b6" stroke-width="4.6" fill="none" stroke-linecap="round" stroke-linejoin="round" filter="url(#gl)"/>
<line x1="48.6" y1="632.5" x2="62.9" y2="640.8" stroke="#222" stroke-width="1.05" stroke-linecap="round"/>
<line x1="62.9" y1="640.8" x2="62.9" y2="656.3" stroke="#222" stroke-width="1.05" stroke-linecap="round"/>
<line x1="62.9" y1="656.3" x2="48.6" y2="664.5" stroke="#222" stroke-width="1.05" stroke-linecap="round"/>
<line x1="48.6" y1="664.5" x2="34.4" y2="656.3" stroke="#222" stroke-width="1.05" stroke-linecap="round"/>
<line x1="34.4" y1="656.3" x2="34.4" y2="640.8" stroke="#222" stroke-width="1.05" stroke-linecap="round"/>
<line x1="34.4" y1="640.8" x2="48.6" y2="632.5" stroke="#222" stroke-width="1.05" stroke-linecap="round"/>
<line x1="37" y1="643.89" x2="37" y2="653.19" stroke="#222" stroke-width="1.05" stroke-linecap="round"/>
<line x1="50.12" y1="636.39" x2="58.7" y2="641.37" stroke="#222" stroke-width="1.05" stroke-linecap="round"/>
<line x1="58.7" y1="655.71" x2="50.12" y2="660.63" stroke="#222" stroke-width="1.05" stroke-linecap="round"/>
<line x1="48.6" y1="632.5" x2="48.6" y2="622.8" stroke="#222" stroke-width="1.05" stroke-linecap="round"/>
<line x1="62.9" y1="640.8" x2="75.8" y2="633.5" stroke="#222" stroke-width="1.05" stroke-linecap="round"/>
<line x1="74.6" y1="633.5" x2="74.6" y2="622.8" stroke="#222" stroke-width="1.05" stroke-linecap="round"/>
<line x1="77.2" y1="633.5" x2="77.2" y2="622.8" stroke="#222" stroke-width="1.05" stroke-linecap="round"/>
<line x1="75.8" y1="633.5" x2="84.8" y2="638.6" stroke="#222" stroke-width="1.05" stroke-linecap="round"/>
<text x="28.4" y="620.5" font-size="10.3" fill="#222" text-anchor="start" textLength="23.3" lengthAdjust="spacingAndGlyphs" stroke="#1a1a1a" stroke-width="0.25">MeO</text>
<text x="72" y="620.5" font-size="10.3" fill="#222" text-anchor="start" textLength="7.6" lengthAdjust="spacingAndGlyphs" stroke="#1a1a1a" stroke-width="0.25">O</text>
<text x="85.8" y="644.2" font-size="10.3" fill="#222" text-anchor="start" textLength="15.8" lengthAdjust="spacingAndGlyphs" stroke="#1a1a1a" stroke-width="0.25">OH</text>
<line x1="65.5" y1="677.7" x2="65.5" y2="734.1" stroke="#222" stroke-width="1.0" />
<polygon points="65.5,742.6 62.8,733.1 65.5,735.1 68.2,733.1" fill="#222" />
<text x="99.5" y="707.2" font-size="8.2" fill="#222" text-anchor="middle" textLength="59.7" lengthAdjust="spacingAndGlyphs"  stroke="#222" stroke-width="0.22">CDI (2.0 equiv)</text>
<text x="100" y="717.4" font-size="8.2" fill="#222" text-anchor="middle" textLength="48" lengthAdjust="spacingAndGlyphs"  stroke="#222" stroke-width="0.22">THF, 4 h, r.t.</text>
<polyline points="18.4,759 14.5,759 14.5,818 18.4,818" fill="none" stroke="#3a3a3a" stroke-width="1.5" />
<polyline points="112.3,759 116.2,759 116.2,818 112.3,818" fill="none" stroke="#3a3a3a" stroke-width="1.5" />
<path d="M39.7,780.4 L53.3,789 M53.3,789 L53.3,805.6 M53.3,805.6 L39.7,814.3 M39.7,814.3 L25.2,805.6 M25.2,805.6 L25.2,789 M25.2,789 L39.7,780.4 M39.7,780.4 L39.7,772 M53.3,789 L66.8,781.3 M66.8,781.3 L66.8,771.5 M66.8,781.3 L78.5,788.5 M80.9,791 L94.9,785.2 M94.9,785.2 L106.5,795.5 M106.5,795.5 L100.7,809.4 M100.7,809.4 L85.2,808.5 M85.2,808.5 L80.9,791" stroke="#ecb8b6" stroke-width="4.2" fill="none" stroke-linecap="round" stroke-linejoin="round" filter="url(#gl)"/>
<line x1="39.7" y1="780.4" x2="53.3" y2="789" stroke="#222" stroke-width="1.05" stroke-linecap="round"/>
<line x1="53.3" y1="789" x2="53.3" y2="805.6" stroke="#222" stroke-width="1.05" stroke-linecap="round"/>
<line x1="53.3" y1="805.6" x2="39.7" y2="814.3" stroke="#222" stroke-width="1.05" stroke-linecap="round"/>
<line x1="39.7" y1="814.3" x2="25.2" y2="805.6" stroke="#222" stroke-width="1.05" stroke-linecap="round"/>
<line x1="25.2" y1="805.6" x2="25.2" y2="789" stroke="#222" stroke-width="1.05" stroke-linecap="round"/>
<line x1="25.2" y1="789" x2="39.7" y2="780.4" stroke="#222" stroke-width="1.05" stroke-linecap="round"/>
<line x1="27.8" y1="792.32" x2="27.8" y2="802.28" stroke="#222" stroke-width="1.05" stroke-linecap="round"/>
<line x1="41.16" y1="784.39" x2="49.32" y2="789.55" stroke="#222" stroke-width="1.05" stroke-linecap="round"/>
<line x1="49.32" y1="805.07" x2="41.16" y2="810.29" stroke="#222" stroke-width="1.05" stroke-linecap="round"/>
<line x1="39.7" y1="780.4" x2="39.7" y2="772.5" stroke="#222" stroke-width="1.05" stroke-linecap="round"/>
<line x1="53.3" y1="789" x2="66.8" y2="781.3" stroke="#222" stroke-width="1.05" stroke-linecap="round"/>
<line x1="65.5" y1="781.3" x2="65.5" y2="772.3" stroke="#222" stroke-width="1.05" stroke-linecap="round"/>
<line x1="68.1" y1="781.3" x2="68.1" y2="772.3" stroke="#222" stroke-width="1.05" stroke-linecap="round"/>
<line x1="66.8" y1="781.3" x2="77.8" y2="787.8" stroke="#222" stroke-width="1.05" stroke-linecap="round"/>
<line x1="84.13" y1="789.66" x2="94.9" y2="785.2" stroke="#222" stroke-width="1.05" stroke-linecap="round"/>
<line x1="94.9" y1="785.2" x2="103.51" y2="792.84" stroke="#222" stroke-width="1.05" stroke-linecap="round"/>
<line x1="104.96" y1="799.19" x2="100.7" y2="809.4" stroke="#222" stroke-width="1.05" stroke-linecap="round"/>
<line x1="100.7" y1="809.4" x2="85.2" y2="808.5" stroke="#222" stroke-width="1.05" stroke-linecap="round"/>
<line x1="85.2" y1="808.5" x2="81.97" y2="795.37" stroke="#222" stroke-width="1.05" stroke-linecap="round"/>
<line x1="96.68" y1="789.98" x2="101.32" y2="794.1" stroke="#222" stroke-width="1.05" stroke-linecap="round"/>
<line x1="98.49" y1="806.87" x2="87.64" y2="806.24" stroke="#222" stroke-width="1.05" stroke-linecap="round"/>
<text x="19.8" y="770.7" font-size="10.3" fill="#222" text-anchor="start" textLength="23.8" lengthAdjust="spacingAndGlyphs" stroke="#1a1a1a" stroke-width="0.25">MeO</text>
<text x="63" y="770.7" font-size="10.3" fill="#222" text-anchor="start" textLength="8.2" lengthAdjust="spacingAndGlyphs" stroke="#1a1a1a" stroke-width="0.25">O</text>
<text x="77.5" y="795" font-size="10.3" fill="#222" text-anchor="start" textLength="7.7" lengthAdjust="spacingAndGlyphs" stroke="#1a1a1a" stroke-width="0.25">N</text>
<text x="103.5" y="801.5" font-size="10.3" fill="#222" text-anchor="start" textLength="7.7" lengthAdjust="spacingAndGlyphs" stroke="#1a1a1a" stroke-width="0.25">N</text>
<line x1="129.5" y1="788.4" x2="221.7" y2="788.4" stroke="#222" stroke-width="1.0" />
<polygon points="230.2,788.4 220.7,791.1 222.7,788.4 220.7,785.7" fill="#222" />
<text x="181.2" y="783.2" font-size="8.2" fill="#222" text-anchor="middle" textLength="41.3" lengthAdjust="spacingAndGlyphs"  stroke="#222" stroke-width="0.22">(1.0 equiv)</text>
<text x="173.4" y="801.3" font-size="8.2" fill="#333" stroke="#333" stroke-width="0.22">H<tspan font-size="6" dy="2">2</tspan><tspan dy="-2">O</tspan></text>
<text x="181.4" y="811.6" font-size="8.2" fill="#222" text-anchor="middle" textLength="47.7" lengthAdjust="spacingAndGlyphs"  stroke="#222" stroke-width="0.22">THF, 4 h, r.t.</text>
<path d="M186.3,746.7 L196.6,753 M196.6,753 L196.6,766 M196.6,766 L186.3,772 M186.3,772 L176,766 M176,766 L176,753 M176,753 L186.3,746.7 M207.8,746.7 L219,753 M219,753 L219,766 M219,766 L207.8,772 M207.8,772 L196.6,766 M196.6,766 L196.6,753 M196.6,753 L207.8,746.7 M157.5,751.5 L164.8,746.7 M164.8,746.7 L176,753" stroke="#ecb8b6" stroke-width="4.2" fill="none" stroke-linecap="round" stroke-linejoin="round" filter="url(#gl)"/>
<line x1="186.3" y1="746.7" x2="196.6" y2="753" stroke="#222" stroke-width="0.85" stroke-linecap="round"/>
<line x1="196.6" y1="753" x2="196.6" y2="766" stroke="#222" stroke-width="0.85" stroke-linecap="round"/>
<line x1="196.6" y1="766" x2="186.3" y2="772" stroke="#222" stroke-width="0.85" stroke-linecap="round"/>
<line x1="186.3" y1="772" x2="176" y2="766" stroke="#222" stroke-width="0.85" stroke-linecap="round"/>
<line x1="176" y1="766" x2="176" y2="753" stroke="#222" stroke-width="0.85" stroke-linecap="round"/>
<line x1="176" y1="753" x2="186.3" y2="746.7" stroke="#222" stroke-width="0.85" stroke-linecap="round"/>
<line x1="207.8" y1="746.7" x2="219" y2="753" stroke="#222" stroke-width="0.85" stroke-linecap="round"/>
<line x1="219" y1="753" x2="219" y2="766" stroke="#222" stroke-width="0.85" stroke-linecap="round"/>
<line x1="219" y1="766" x2="207.8" y2="772" stroke="#222" stroke-width="0.85" stroke-linecap="round"/>
<line x1="207.8" y1="772" x2="196.6" y2="766" stroke="#222" stroke-width="0.85" stroke-linecap="round"/>
<line x1="196.6" y1="766" x2="196.6" y2="753" stroke="#222" stroke-width="0.85" stroke-linecap="round"/>
<line x1="196.6" y1="753" x2="207.8" y2="746.7" stroke="#222" stroke-width="0.85" stroke-linecap="round"/>
<line x1="178.1" y1="755.58" x2="178.1" y2="763.38" stroke="#222" stroke-width="0.85" stroke-linecap="round"/>
<line x1="187.36" y1="749.81" x2="193.54" y2="753.59" stroke="#222" stroke-width="0.85" stroke-linecap="round"/>
<line x1="193.55" y1="765.35" x2="187.37" y2="768.95" stroke="#222" stroke-width="0.85" stroke-linecap="round"/>
<line x1="208.98" y1="749.77" x2="215.7" y2="753.55" stroke="#222" stroke-width="0.85" stroke-linecap="round"/>
<line x1="216.9" y1="755.58" x2="216.9" y2="763.38" stroke="#222" stroke-width="0.85" stroke-linecap="round"/>
<line x1="215.7" y1="765.39" x2="208.98" y2="768.99" stroke="#222" stroke-width="0.85" stroke-linecap="round"/>
<line x1="157.5" y1="751.5" x2="164.8" y2="746.7" stroke="#222" stroke-width="0.85" stroke-linecap="round"/>
<line x1="164.8" y1="746.7" x2="176" y2="753" stroke="#222" stroke-width="0.85" stroke-linecap="round"/>
<text x="139.3" y="757" font-size="8.6" fill="#222" stroke="#222" stroke-width="0.22">H<tspan font-size="6" dy="2">2</tspan><tspan dy="-2">N</tspan></text>
<path d="M263.9,780.2 L277.9,788.4 M277.9,788.4 L277.9,806 M277.9,806 L263.9,814.1 M263.9,814.1 L249.9,806 M249.9,806 L249.9,788.4 M249.9,788.4 L263.9,780.2 M346.8,781.4 L359.7,789.6 M359.7,789.6 L359.7,806 M359.7,806 L346.8,814.1 M346.8,814.1 L332.8,806 M332.8,806 L332.8,789.6 M332.8,789.6 L346.8,781.4 M373.7,781.4 L388.9,789.6 M388.9,789.6 L388.9,806 M388.9,806 L373.7,814.1 M373.7,814.1 L359.7,806 M359.7,806 L359.7,789.6 M359.7,789.6 L373.7,781.4 M263.9,780.2 L263.9,772 M277.9,788.4 L291.9,781.4 M291.9,781.4 L291.9,772 M291.9,781.4 L301.5,787 M309.5,787 L320,781.4 M320,781.4 L332.8,789.6" stroke="#ecb8b6" stroke-width="4.6" fill="none" stroke-linecap="round" stroke-linejoin="round" filter="url(#gl)"/>
<line x1="263.9" y1="780.2" x2="277.9" y2="788.4" stroke="#222" stroke-width="1.05" stroke-linecap="round"/>
<line x1="277.9" y1="788.4" x2="277.9" y2="806" stroke="#222" stroke-width="1.05" stroke-linecap="round"/>
<line x1="277.9" y1="806" x2="263.9" y2="814.1" stroke="#222" stroke-width="1.05" stroke-linecap="round"/>
<line x1="263.9" y1="814.1" x2="249.9" y2="806" stroke="#222" stroke-width="1.05" stroke-linecap="round"/>
<line x1="249.9" y1="806" x2="249.9" y2="788.4" stroke="#222" stroke-width="1.05" stroke-linecap="round"/>
<line x1="249.9" y1="788.4" x2="263.9" y2="780.2" stroke="#222" stroke-width="1.05" stroke-linecap="round"/>
<line x1="252.5" y1="791.92" x2="252.5" y2="802.48" stroke="#222" stroke-width="1.05" stroke-linecap="round"/>
<line x1="265.46" y1="784.13" x2="273.86" y2="789.05" stroke="#222" stroke-width="1.05" stroke-linecap="round"/>
<line x1="273.86" y1="805.34" x2="265.46" y2="810.2" stroke="#222" stroke-width="1.05" stroke-linecap="round"/>
<line x1="346.8" y1="781.4" x2="359.7" y2="789.6" stroke="#222" stroke-width="1.05" stroke-linecap="round"/>
<line x1="359.7" y1="789.6" x2="359.7" y2="806" stroke="#222" stroke-width="1.05" stroke-linecap="round"/>
<line x1="359.7" y1="806" x2="346.8" y2="814.1" stroke="#222" stroke-width="1.05" stroke-linecap="round"/>
<line x1="346.8" y1="814.1" x2="332.8" y2="806" stroke="#222" stroke-width="1.05" stroke-linecap="round"/>
<line x1="332.8" y1="806" x2="332.8" y2="789.6" stroke="#222" stroke-width="1.05" stroke-linecap="round"/>
<line x1="332.8" y1="789.6" x2="346.8" y2="781.4" stroke="#222" stroke-width="1.05" stroke-linecap="round"/>
<line x1="373.7" y1="781.4" x2="388.9" y2="789.6" stroke="#222" stroke-width="1.05" stroke-linecap="round"/>
<line x1="388.9" y1="789.6" x2="388.9" y2="806" stroke="#222" stroke-width="1.05" stroke-linecap="round"/>
<line x1="388.9" y1="806" x2="373.7" y2="814.1" stroke="#222" stroke-width="1.05" stroke-linecap="round"/>
<line x1="373.7" y1="814.1" x2="359.7" y2="806" stroke="#222" stroke-width="1.05" stroke-linecap="round"/>
<line x1="359.7" y1="806" x2="359.7" y2="789.6" stroke="#222" stroke-width="1.05" stroke-linecap="round"/>
<line x1="359.7" y1="789.6" x2="373.7" y2="781.4" stroke="#222" stroke-width="1.05" stroke-linecap="round"/>
<line x1="335.4" y1="792.88" x2="335.4" y2="802.72" stroke="#222" stroke-width="1.05" stroke-linecap="round"/>
<line x1="348.1" y1="785.3" x2="355.84" y2="790.22" stroke="#222" stroke-width="1.05" stroke-linecap="round"/>
<line x1="355.84" y1="805.36" x2="348.1" y2="810.22" stroke="#222" stroke-width="1.05" stroke-linecap="round"/>
<line x1="375.41" y1="785.28" x2="384.53" y2="790.2" stroke="#222" stroke-width="1.05" stroke-linecap="round"/>
<line x1="386.3" y1="792.88" x2="386.3" y2="802.72" stroke="#222" stroke-width="1.05" stroke-linecap="round"/>
<line x1="384.53" y1="805.39" x2="375.41" y2="810.25" stroke="#222" stroke-width="1.05" stroke-linecap="round"/>
<line x1="263.9" y1="780.2" x2="263.9" y2="772.5" stroke="#222" stroke-width="1.05" stroke-linecap="round"/>
<line x1="277.9" y1="788.4" x2="291.9" y2="781.4" stroke="#222" stroke-width="1.05" stroke-linecap="round"/>
<line x1="290.6" y1="781.4" x2="290.6" y2="772.5" stroke="#222" stroke-width="1.05" stroke-linecap="round"/>
<line x1="293.2" y1="781.4" x2="293.2" y2="772.5" stroke="#222" stroke-width="1.05" stroke-linecap="round"/>
<line x1="291.9" y1="781.4" x2="301" y2="786.6" stroke="#222" stroke-width="1.05" stroke-linecap="round"/>
<line x1="310" y1="786.6" x2="320" y2="781.4" stroke="#222" stroke-width="1.05" stroke-linecap="round"/>
<line x1="320" y1="781.4" x2="332.8" y2="789.6" stroke="#222" stroke-width="1.05" stroke-linecap="round"/>
<text x="244" y="770.9" font-size="10.3" fill="#222" text-anchor="start" textLength="23.4" lengthAdjust="spacingAndGlyphs" stroke="#1a1a1a" stroke-width="0.25">MeO</text>
<text x="287.3" y="770.9" font-size="10.3" fill="#222" text-anchor="start" textLength="8.5" lengthAdjust="spacingAndGlyphs" stroke="#1a1a1a" stroke-width="0.25">O</text>
<text x="301.3" y="795.4" font-size="10.3" fill="#222" text-anchor="start" textLength="8" lengthAdjust="spacingAndGlyphs" stroke="#1a1a1a" stroke-width="0.25">N</text>
<text x="301.5" y="804.3" font-size="10.3" fill="#222" text-anchor="start" textLength="7.6" lengthAdjust="spacingAndGlyphs" stroke="#1a1a1a" stroke-width="0.25">H</text>
<line x1="457.3" y1="612.8" x2="457.3" y2="783.6" stroke="#777" stroke-width="1.3" />
<line x1="457.3" y1="783.6" x2="802.8" y2="783.6" stroke="#888" stroke-width="1.6" />
<text x="451" y="780" font-size="10.8" fill="#333" text-anchor="end"  stroke="#333" stroke-width="0.22">0.0</text>
<text x="451" y="749.1" font-size="10.8" fill="#333" text-anchor="end"  stroke="#333" stroke-width="0.22">0.2</text>
<text x="451" y="718.2" font-size="10.8" fill="#333" text-anchor="end"  stroke="#333" stroke-width="0.22">0.4</text>
<text x="451" y="687.3" font-size="10.8" fill="#333" text-anchor="end"  stroke="#333" stroke-width="0.22">0.6</text>
<text x="451" y="656.4" font-size="10.8" fill="#333" text-anchor="end"  stroke="#333" stroke-width="0.22">0.8</text>
<text x="451" y="625.5" font-size="10.8" fill="#333" text-anchor="end"  stroke="#333" stroke-width="0.22">1.0</text>
<text x="473.3" y="796.5" font-size="10.8" fill="#333" text-anchor="middle"  stroke="#333" stroke-width="0.22">0</text>
<text x="528.5" y="796.5" font-size="10.8" fill="#333" text-anchor="middle"  stroke="#333" stroke-width="0.22">2</text>
<text x="583.7" y="796.5" font-size="10.8" fill="#333" text-anchor="middle"  stroke="#333" stroke-width="0.22">4</text>
<text x="638.9" y="796.5" font-size="10.8" fill="#333" text-anchor="middle"  stroke="#333" stroke-width="0.22">6</text>
<text x="694.1" y="796.5" font-size="10.8" fill="#333" text-anchor="middle"  stroke="#333" stroke-width="0.22">8</text>
<text x="749.3" y="796.5" font-size="10.8" fill="#333" text-anchor="middle"  stroke="#333" stroke-width="0.22">10</text>
<text x="630.6" y="810.5" font-size="11.6" fill="#333" text-anchor="middle" textLength="45" lengthAdjust="spacingAndGlyphs"  stroke="#333" stroke-width="0.22">Time [h]</text>
<text transform="translate(433,698.7) rotate(-90)" font-size="11.6" fill="#333" text-anchor="middle" textLength="100" lengthAdjust="spacingAndGlyphs" stroke="#333" stroke-width="0.22">Relative Quantities</text>
<text x="619.2" y="590.8" font-size="12" fill="#333" text-anchor="middle" textLength="40" lengthAdjust="spacingAndGlyphs"  stroke="#333" stroke-width="0.22">Second</text>
<text x="619.5" y="603.7" font-size="12" fill="#333" text-anchor="middle" textLength="24.5" lengthAdjust="spacingAndGlyphs"  stroke="#333" stroke-width="0.22">Step</text>
<line x1="619.8" y1="612.5" x2="619.8" y2="784" stroke="#222" stroke-width="1.3" stroke-dasharray="1.4 2.6"/>
<polyline points="473.3,621.2 485.4,716.8 492.1,759.6 499.1,771.8 506.1,774.6 513,775.9 519.9,775.9 526.8,775.9 533.7,775.9 540.6,775.9 547.5,775.9 554.4,775.9 561.3,775.9 568.2,775.9 575.1,775.9 582,775.9" fill="none" stroke="#c4276a" stroke-width="1.5" stroke-linejoin="round"/>
<circle cx="473.3" cy="621.2" r="2.7" fill="#c4276a"/>
<circle cx="485.4" cy="716.8" r="2.7" fill="#c4276a"/>
<circle cx="492.1" cy="759.6" r="2.7" fill="#c4276a"/>
<circle cx="499.1" cy="771.8" r="2.7" fill="#c4276a"/>
<circle cx="506.1" cy="774.6" r="2.7" fill="#c4276a"/>
<circle cx="513" cy="775.9" r="2.7" fill="#c4276a"/>
<circle cx="519.9" cy="775.9" r="2.7" fill="#c4276a"/>
<circle cx="526.8" cy="775.9" r="2.7" fill="#c4276a"/>
<circle cx="533.7" cy="775.9" r="2.7" fill="#c4276a"/>
<circle cx="540.6" cy="775.9" r="2.7" fill="#c4276a"/>
<circle cx="547.5" cy="775.9" r="2.7" fill="#c4276a"/>
<circle cx="554.4" cy="775.9" r="2.7" fill="#c4276a"/>
<circle cx="561.3" cy="775.9" r="2.7" fill="#c4276a"/>
<circle cx="568.2" cy="775.9" r="2.7" fill="#c4276a"/>
<circle cx="575.1" cy="775.9" r="2.7" fill="#c4276a"/>
<circle cx="582" cy="775.9" r="2.7" fill="#c4276a"/>
<polyline points="473.3,776.4 485.4,677 492.1,637.5 499.1,625.8 506.1,625.3 512.8,622.7 519.8,623.8 526.8,624.5 533.5,623.2 540.5,621.4 547.4,620.7 554.2,624 561.1,624.5 568.1,623.2 575.3,622.7 581.8,622.7 624.5,622.7" fill="none" stroke="#3e1c42" stroke-width="1.5" stroke-linejoin="round"/>
<circle cx="473.3" cy="776.4" r="2.7" fill="#3e1c42"/>
<circle cx="485.4" cy="677" r="2.7" fill="#3e1c42"/>
<circle cx="492.1" cy="637.5" r="2.7" fill="#3e1c42"/>
<circle cx="499.1" cy="625.8" r="2.7" fill="#3e1c42"/>
<circle cx="506.1" cy="625.3" r="2.7" fill="#3e1c42"/>
<circle cx="512.8" cy="622.7" r="2.7" fill="#3e1c42"/>
<circle cx="519.8" cy="623.8" r="2.7" fill="#3e1c42"/>
<circle cx="526.8" cy="624.5" r="2.7" fill="#3e1c42"/>
<circle cx="533.5" cy="623.2" r="2.7" fill="#3e1c42"/>
<circle cx="540.5" cy="621.4" r="2.7" fill="#3e1c42"/>
<circle cx="547.4" cy="620.7" r="2.7" fill="#3e1c42"/>
<circle cx="554.2" cy="624" r="2.7" fill="#3e1c42"/>
<circle cx="561.1" cy="624.5" r="2.7" fill="#3e1c42"/>
<circle cx="568.1" cy="623.2" r="2.7" fill="#3e1c42"/>
<circle cx="575.3" cy="622.7" r="2.7" fill="#3e1c42"/>
<circle cx="581.8" cy="622.7" r="2.7" fill="#3e1c42"/>
<polyline points="625.1,620.7 628.4,632.3 634.9,667.7 641.8,691.7 648.6,705.9 655.5,716.2 662.5,729.2 669.2,728.6 676.2,736.9 683.2,733 689.9,738.2 696.9,740.3 703.8,744.1 710.6,727.9 717.5,731.7 724.5,747.8 731.2,750.4 738.2,748.5 745.2,729.7 752.4,731.7 758.9,735.6 765.8,753.7 772.6,751.9 779.5,754.5 786.5,737.4" fill="none" stroke="#f38a5c" stroke-width="1.5" stroke-linejoin="round"/>
<circle cx="625.1" cy="620.7" r="2.7" fill="#f38a5c"/>
<circle cx="628.4" cy="632.3" r="2.7" fill="#f38a5c"/>
<circle cx="634.9" cy="667.7" r="2.7" fill="#f38a5c"/>
<circle cx="641.8" cy="691.7" r="2.7" fill="#f38a5c"/>
<circle cx="648.6" cy="705.9" r="2.7" fill="#f38a5c"/>
<circle cx="655.5" cy="716.2" r="2.7" fill="#f38a5c"/>
<circle cx="662.5" cy="729.2" r="2.7" fill="#f38a5c"/>
<circle cx="669.2" cy="728.6" r="2.7" fill="#f38a5c"/>
<circle cx="676.2" cy="736.9" r="2.7" fill="#f38a5c"/>
<circle cx="683.2" cy="733" r="2.7" fill="#f38a5c"/>
<circle cx="689.9" cy="738.2" r="2.7" fill="#f38a5c"/>
<circle cx="696.9" cy="740.3" r="2.7" fill="#f38a5c"/>
<circle cx="703.8" cy="744.1" r="2.7" fill="#f38a5c"/>
<circle cx="710.6" cy="727.9" r="2.7" fill="#f38a5c"/>
<circle cx="717.5" cy="731.7" r="2.7" fill="#f38a5c"/>
<circle cx="724.5" cy="747.8" r="2.7" fill="#f38a5c"/>
<circle cx="731.2" cy="750.4" r="2.7" fill="#f38a5c"/>
<circle cx="738.2" cy="748.5" r="2.7" fill="#f38a5c"/>
<circle cx="745.2" cy="729.7" r="2.7" fill="#f38a5c"/>
<circle cx="752.4" cy="731.7" r="2.7" fill="#f38a5c"/>
<circle cx="758.9" cy="735.6" r="2.7" fill="#f38a5c"/>
<circle cx="765.8" cy="753.7" r="2.7" fill="#f38a5c"/>
<circle cx="772.6" cy="751.9" r="2.7" fill="#f38a5c"/>
<circle cx="779.5" cy="754.5" r="2.7" fill="#f38a5c"/>
<circle cx="786.5" cy="737.4" r="2.7" fill="#f38a5c"/>
<polyline points="624.5,622.7 627.9,633.6 634.1,673.6 641.3,697.6 648.6,711.6 655.5,721.4 662.5,737.4 669.2,734.3 676.2,746.7 683.2,743.4 689.9,747.2 696.9,747.8 703.8,751.1 710.6,732.3 717.5,769.2 724.5,756.3 731.2,762.7 738.2,757.6 745.2,729.2 752.4,730.5 758.9,744.7 765.8,767.4 772.6,764.6 779.5,763.3 786.5,740.8" fill="none" stroke="#3e1c42" stroke-width="1.5" stroke-linejoin="round"/>
<circle cx="624.5" cy="622.7" r="2.7" fill="#3e1c42"/>
<circle cx="627.9" cy="633.6" r="2.7" fill="#3e1c42"/>
<circle cx="634.1" cy="673.6" r="2.7" fill="#3e1c42"/>
<circle cx="641.3" cy="697.6" r="2.7" fill="#3e1c42"/>
<circle cx="648.6" cy="711.6" r="2.7" fill="#3e1c42"/>
<circle cx="655.5" cy="721.4" r="2.7" fill="#3e1c42"/>
<circle cx="662.5" cy="737.4" r="2.7" fill="#3e1c42"/>
<circle cx="669.2" cy="734.3" r="2.7" fill="#3e1c42"/>
<circle cx="676.2" cy="746.7" r="2.7" fill="#3e1c42"/>
<circle cx="683.2" cy="743.4" r="2.7" fill="#3e1c42"/>
<circle cx="689.9" cy="747.2" r="2.7" fill="#3e1c42"/>
<circle cx="696.9" cy="747.8" r="2.7" fill="#3e1c42"/>
<circle cx="703.8" cy="751.1" r="2.7" fill="#3e1c42"/>
<circle cx="710.6" cy="732.3" r="2.7" fill="#3e1c42"/>
<circle cx="717.5" cy="769.2" r="2.7" fill="#3e1c42"/>
<circle cx="724.5" cy="756.3" r="2.7" fill="#3e1c42"/>
<circle cx="731.2" cy="762.7" r="2.7" fill="#3e1c42"/>
<circle cx="738.2" cy="757.6" r="2.7" fill="#3e1c42"/>
<circle cx="745.2" cy="729.2" r="2.7" fill="#3e1c42"/>
<circle cx="752.4" cy="730.5" r="2.7" fill="#3e1c42"/>
<circle cx="758.9" cy="744.7" r="2.7" fill="#3e1c42"/>
<circle cx="765.8" cy="767.4" r="2.7" fill="#3e1c42"/>
<circle cx="772.6" cy="764.6" r="2.7" fill="#3e1c42"/>
<circle cx="779.5" cy="763.3" r="2.7" fill="#3e1c42"/>
<circle cx="786.5" cy="740.8" r="2.7" fill="#3e1c42"/>
<polyline points="625.1,775.7 627.9,742.9 634.9,708 641.8,644.4 648.6,636.2 655.5,629.7 662.5,644.4 669.2,625 676.2,638.2 683.2,623.2 689.9,625.3 696.9,620.7 703.8,626.4 710.6,625.3 717.5,654.2 724.5,626.6 731.2,638.8 738.2,627.1 745.2,636.2 752.4,633.6 758.9,626.4 765.8,639.3 772.6,629.7 779.5,626.4 786.5,640.6" fill="none" stroke="#e84a47" stroke-width="1.5" stroke-linejoin="round"/>
<circle cx="625.1" cy="775.7" r="2.7" fill="#e84a47"/>
<circle cx="627.9" cy="742.9" r="2.7" fill="#e84a47"/>
<circle cx="634.9" cy="708" r="2.7" fill="#e84a47"/>
<circle cx="641.8" cy="644.4" r="2.7" fill="#e84a47"/>
<circle cx="648.6" cy="636.2" r="2.7" fill="#e84a47"/>
<circle cx="655.5" cy="629.7" r="2.7" fill="#e84a47"/>
<circle cx="662.5" cy="644.4" r="2.7" fill="#e84a47"/>
<circle cx="669.2" cy="625" r="2.7" fill="#e84a47"/>
<circle cx="676.2" cy="638.2" r="2.7" fill="#e84a47"/>
<circle cx="683.2" cy="623.2" r="2.7" fill="#e84a47"/>
<circle cx="689.9" cy="625.3" r="2.7" fill="#e84a47"/>
<circle cx="696.9" cy="620.7" r="2.7" fill="#e84a47"/>
<circle cx="703.8" cy="626.4" r="2.7" fill="#e84a47"/>
<circle cx="710.6" cy="625.3" r="2.7" fill="#e84a47"/>
<circle cx="717.5" cy="654.2" r="2.7" fill="#e84a47"/>
<circle cx="724.5" cy="626.6" r="2.7" fill="#e84a47"/>
<circle cx="731.2" cy="638.8" r="2.7" fill="#e84a47"/>
<circle cx="738.2" cy="627.1" r="2.7" fill="#e84a47"/>
<circle cx="745.2" cy="636.2" r="2.7" fill="#e84a47"/>
<circle cx="752.4" cy="633.6" r="2.7" fill="#e84a47"/>
<circle cx="758.9" cy="626.4" r="2.7" fill="#e84a47"/>
<circle cx="765.8" cy="639.3" r="2.7" fill="#e84a47"/>
<circle cx="772.6" cy="629.7" r="2.7" fill="#e84a47"/>
<circle cx="779.5" cy="626.4" r="2.7" fill="#e84a47"/>
<circle cx="786.5" cy="640.6" r="2.7" fill="#e84a47"/>
</svg>
</body></html>
